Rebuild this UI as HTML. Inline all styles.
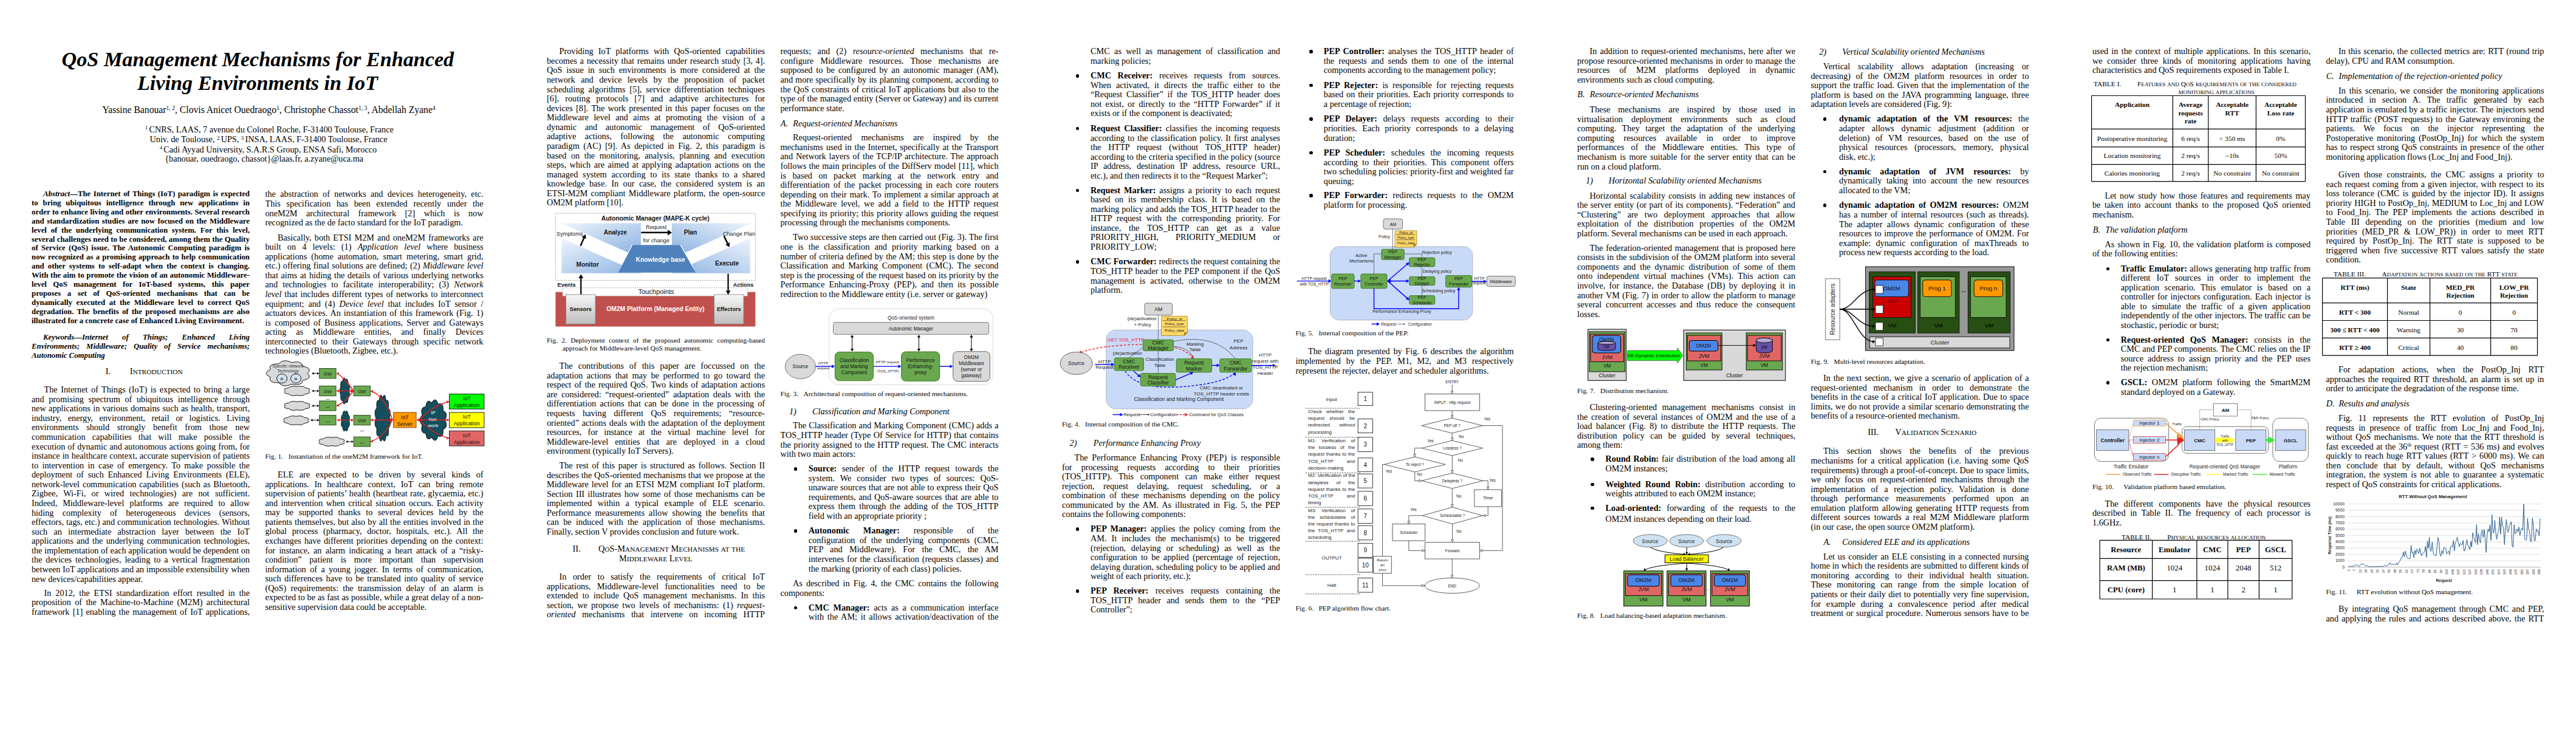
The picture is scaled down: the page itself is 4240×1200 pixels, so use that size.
<!DOCTYPE html><html><head><meta charset="utf-8"><title>QoS Management Mechanisms for Enhanced Living Environments in IoT</title><style>
html,body{margin:0;padding:0;background:#fff}
body{width:4240px;height:1200px;position:relative;overflow:hidden}
.l{position:absolute;white-space:nowrap;font-family:"Liberation Serif",serif;font-size:14.245px;line-height:1;color:#000}
.j{text-align:justify;text-align-last:justify}
.fs{position:absolute;white-space:nowrap;font-family:"Liberation Sans",sans-serif;font-size:8.1px;line-height:1;color:#222}
.d{position:absolute;width:5.5px;height:5.5px;border-radius:50%;background:#000}
.b{font-weight:bold}.i{font-style:italic}
sup{font-size:0.62em;vertical-align:baseline;position:relative;top:-0.55em;line-height:0}
svg text{font-family:"Liberation Sans",sans-serif}
</style></head><body>
<div class="l b j" style="left:71px;top:313.06px;font-size:12.82px;width:340px"><i>Abstract</i>—The Internet of Things (IoT) paradigm is expected</div>
<div class="l b j" style="left:52px;top:327.96px;font-size:12.82px;width:359px">to bring ubiquitous intelligence through new applications in</div>
<div class="l b j" style="left:52px;top:342.86px;font-size:12.82px;width:359px">order to enhance living and other environments. Several research</div>
<div class="l b j" style="left:52px;top:357.76px;font-size:12.82px;width:359px">and standardization studies are now focused on the Middleware</div>
<div class="l b j" style="left:52px;top:372.66px;font-size:12.82px;width:359px">level of the underlying communication system. For this level,</div>
<div class="l b j" style="left:52px;top:387.56px;font-size:12.82px;width:359px">several challenges need to be considered, among them the Quality</div>
<div class="l b j" style="left:52px;top:402.46px;font-size:12.82px;width:359px">of Service (QoS) issue. The Autonomic Computing paradigm is</div>
<div class="l b j" style="left:52px;top:417.36px;font-size:12.82px;width:359px">now recognized as a promising approach to help communication</div>
<div class="l b j" style="left:52px;top:432.26px;font-size:12.82px;width:359px">and other systems to self-adapt when the context is changing.</div>
<div class="l b j" style="left:52px;top:447.16px;font-size:12.82px;width:359px">With the aim to promote the vision of an autonomic Middleware-</div>
<div class="l b j" style="left:52px;top:462.06px;font-size:12.82px;width:359px">level QoS management for IoT-based systems, this paper</div>
<div class="l b j" style="left:52px;top:476.96px;font-size:12.82px;width:359px">proposes a set of QoS-oriented mechanisms that can be</div>
<div class="l b j" style="left:52px;top:491.86px;font-size:12.82px;width:359px">dynamically executed at the Middleware level to correct QoS</div>
<div class="l b j" style="left:52px;top:506.76px;font-size:12.82px;width:359px">degradation. The benefits of the proposed mechanisms are also</div>
<div class="l b" style="left:52px;top:521.66px;font-size:12.82px">illustrated for a concrete case of Enhanced Living Environment.</div>
<div class="l b i j" style="left:71px;top:548.86px;font-size:12.82px;width:340px">Keywords—Internet of Things; Enhanced Living</div>
<div class="l b i j" style="left:52px;top:563.76px;font-size:12.82px;width:359px">Environments; Middleware; Quality of Service mechanisms;</div>
<div class="l b i" style="left:52px;top:578.66px;font-size:12.82px">Autonomic Computing</div>
<div class="l j" style="left:72.5px;top:634.17px;width:338.5px">The Internet of Things (IoT) is expected to bring a large</div>
<div class="l j" style="left:52px;top:649.74px;width:359px">and promising spectrum of ubiquitous intelligence through</div>
<div class="l j" style="left:52px;top:665.31px;width:359px">new applications in various domains such as health, transport,</div>
<div class="l j" style="left:52px;top:680.88px;width:359px">industry, energy, environment, retail or logistics. Living</div>
<div class="l j" style="left:52px;top:696.45px;width:359px">environments should strongly benefit from those new</div>
<div class="l j" style="left:52px;top:712.02px;width:359px">communication capabilities that will make possible the</div>
<div class="l j" style="left:52px;top:727.59px;width:359px">execution of dynamic and autonomous actions going from, for</div>
<div class="l j" style="left:52px;top:743.16px;width:359px">instance in healthcare context, accurate supervision of patients</div>
<div class="l j" style="left:52px;top:758.73px;width:359px">to intervention in case of emergency. To make possible the</div>
<div class="l j" style="left:52px;top:774.3px;width:359px">deployment of such Enhanced Living Environments (ELE),</div>
<div class="l j" style="left:52px;top:789.87px;width:359px">network-level communication capabilities (such as Bluetooth,</div>
<div class="l j" style="left:52px;top:805.44px;width:359px">Zigbee, Wi-Fi, or wired technologies) are not sufficient.</div>
<div class="l j" style="left:52px;top:821.01px;width:359px">Indeed, Middleware-level platforms are required to allow</div>
<div class="l j" style="left:52px;top:836.58px;width:359px">hiding complexity of heterogeneous devices (sensors,</div>
<div class="l j" style="left:52px;top:852.15px;width:359px">effectors, tags, etc.) and communication technologies. Without</div>
<div class="l j" style="left:52px;top:867.72px;width:359px">such an intermediate abstraction layer between the IoT</div>
<div class="l j" style="left:52px;top:883.29px;width:359px">applications and the underlying communication technologies,</div>
<div class="l j" style="left:52px;top:898.86px;width:359px">the implementation of each application would be dependent on</div>
<div class="l j" style="left:52px;top:914.43px;width:359px">the devices technologies, leading to a vertical fragmentation</div>
<div class="l j" style="left:52px;top:930px;width:359px">between IoT applications and an impossible extensibility when</div>
<div class="l" style="left:52px;top:945.57px">new devices/capabilities appear.</div>
<div class="l j" style="left:72.5px;top:968.87px;width:338.5px">In 2012, the ETSI standardization effort resulted in the</div>
<div class="l j" style="left:52px;top:984.44px;width:359px">proposition of the Machine-to-Machine (M2M) architectural</div>
<div class="l j" style="left:52px;top:1000.01px;width:359px">framework [1] enabling the management of IoT applications,</div>
<div class="l j" style="left:436.5px;top:312.37px;width:359px">the abstraction of networks and devices heterogeneity, etc.</div>
<div class="l j" style="left:436.5px;top:327.94px;width:359px">This specification has been extended recently under the</div>
<div class="l j" style="left:436.5px;top:343.51px;width:359px">oneM2M architectural framework [2] which is now</div>
<div class="l" style="left:436.5px;top:359.08px">recognized as the de facto standard for the IoT paradigm.</div>
<div class="l j" style="left:457px;top:383.57px;width:338.5px">Basically, both ETSI M2M and oneM2M frameworks are</div>
<div class="l j" style="left:436.5px;top:399.14px;width:359px">built on 4 levels: (1) <i>Application level</i> where business</div>
<div class="l j" style="left:436.5px;top:414.71px;width:359px">applications (home automation, smart metering, smart grid,</div>
<div class="l j" style="left:436.5px;top:430.28px;width:359px">etc.) offering final solutions are defined; (2) <i>Middleware level</i></div>
<div class="l j" style="left:436.5px;top:445.85px;width:359px">that aims at hiding the details of various underlying networks</div>
<div class="l j" style="left:436.5px;top:461.42px;width:359px">and technologies to facilitate interoperability; (3) <i>Network</i></div>
<div class="l j" style="left:436.5px;top:476.99px;width:359px"><i>level</i> that includes different types of networks to interconnect</div>
<div class="l j" style="left:436.5px;top:492.56px;width:359px">equipment; and (4) <i>Device level</i> that includes IoT sensor /</div>
<div class="l j" style="left:436.5px;top:508.13px;width:359px">actuators devices. An instantiation of this framework (Fig. 1)</div>
<div class="l j" style="left:436.5px;top:523.7px;width:359px">is composed of Business applications, Server and Gateways</div>
<div class="l j" style="left:436.5px;top:539.27px;width:359px">acting as Middleware entities, and finally Devices</div>
<div class="l j" style="left:436.5px;top:554.84px;width:359px">interconnected to their Gateways through specific network</div>
<div class="l" style="left:436.5px;top:570.41px">technologies (Bluetooth, Zigbee, etc.).</div>
<div class="l j" style="left:457px;top:774.07px;width:338.5px">ELE are expected to be driven by several kinds of</div>
<div class="l j" style="left:436.5px;top:789.64px;width:359px">applications. In healthcare context, IoT can bring remote</div>
<div class="l j" style="left:436.5px;top:805.21px;width:359px">supervision of patients’ health (heartbeat rate, glycaemia, etc.)</div>
<div class="l j" style="left:436.5px;top:820.78px;width:359px">and intervention when critical situation occurs. Each activity</div>
<div class="l j" style="left:436.5px;top:836.35px;width:359px">may be supported thanks to several devices held by the</div>
<div class="l j" style="left:436.5px;top:851.92px;width:359px">patients themselves, but also by all the entities involved in the</div>
<div class="l j" style="left:436.5px;top:867.49px;width:359px">global process (pharmacy, doctor, hospitals, etc.). All the</div>
<div class="l j" style="left:436.5px;top:883.06px;width:359px">exchanges have different priorities depending on the context:</div>
<div class="l j" style="left:436.5px;top:898.63px;width:359px">for instance, an alarm indicating a heart attack of a “risky-</div>
<div class="l j" style="left:436.5px;top:914.2px;width:359px">condition” patient is more important than supervision</div>
<div class="l j" style="left:436.5px;top:929.77px;width:359px">information of a young jogger. In terms of communication,</div>
<div class="l j" style="left:436.5px;top:945.34px;width:359px">such differences have to be translated into quality of service</div>
<div class="l j" style="left:436.5px;top:960.91px;width:359px">(QoS) requirements: the transmission delay of an alarm is</div>
<div class="l j" style="left:436.5px;top:976.48px;width:359px">expected to be as fast as possible, while a great delay of a non-</div>
<div class="l" style="left:436.5px;top:992.05px">sensitive supervision data could be acceptable.</div>
<div class="l b i" style="left:101.6px;top:80.77px;font-size:34.19px">QoS Management Mechanisms for Enhanced</div>
<div class="l b i" style="left:226px;top:119.87px;font-size:34.19px">Living Environments in IoT</div>
<div class="l" style="left:168.5px;top:173.38px;font-size:15.67px">Yassine Banouar<sup>1, 2</sup>, Clovis Anicet Ouedraogo<sup>1</sup>, Christophe Chassot<sup>1, 3</sup>, Abdellah Zyane<sup>4</sup></div>
<div class="l" style="left:238.8px;top:206.17px"><sup>1 </sup>CNRS, LAAS, 7 avenue du Colonel Roche, F-31400 Toulouse, France</div>
<div class="l" style="left:246.5px;top:222.37px">Univ. de Toulouse, <sup>2 </sup>UPS, <sup>3 </sup>INSA, LAAS, F-31400 Toulouse, France</div>
<div class="l" style="left:262.7px;top:238.57px"><sup>4 </sup>Cadi Ayyad University, S.A.R.S Group, ENSA Safi, Morocco</div>
<div class="l" style="left:271.2px;top:253.97px">{banouar, ouedraogo, chassot}@laas.fr, a.zyane@uca.ma</div>
<div class="l" style="left:173.7px;top:604.17px">I.</div>
<div class="l" style="left:213.7px;top:604.17px">I<span style="font-size:11.4px">NTRODUCTION</span></div>
<div class="l" style="left:436.5px;top:746.46px;font-size:11.4px">Fig. 1.</div>
<div class="l" style="left:474.7px;top:746.46px;font-size:11.4px">Instantiation of the oneM2M framework for IoT.</div>
<div class="l j" style="left:920.5px;top:77.27px;width:338.5px">Providing IoT platforms with QoS-oriented capabilities</div>
<div class="l j" style="left:900px;top:92.84px;width:359px">becomes a necessity that remains under research study [3, 4].</div>
<div class="l j" style="left:900px;top:108.41px;width:359px">QoS issue in such environments is more considered at the</div>
<div class="l j" style="left:900px;top:123.98px;width:359px">network and device levels by the proposition of packet</div>
<div class="l j" style="left:900px;top:139.55px;width:359px">scheduling algorithms [5], service differentiation techniques</div>
<div class="l j" style="left:900px;top:155.12px;width:359px">[6], routing protocols [7] and adaptive architectures for</div>
<div class="l j" style="left:900px;top:170.69px;width:359px">devices [8]. The work presented in this paper focuses on the</div>
<div class="l j" style="left:900px;top:186.26px;width:359px">Middleware level and aims at promoting the vision of a</div>
<div class="l j" style="left:900px;top:201.83px;width:359px">dynamic and autonomic management of QoS-oriented</div>
<div class="l j" style="left:900px;top:217.4px;width:359px">adaptive actions, following the autonomic computing</div>
<div class="l j" style="left:900px;top:232.97px;width:359px">paradigm (AC) [9]. As depicted in Fig. 2, this paradigm is</div>
<div class="l j" style="left:900px;top:248.54px;width:359px">based on the monitoring, analysis, planning and execution</div>
<div class="l j" style="left:900px;top:264.11px;width:359px">steps, which are aimed at applying adaptation actions on the</div>
<div class="l j" style="left:900px;top:279.68px;width:359px">managed system according to its state thanks to a shared</div>
<div class="l j" style="left:900px;top:295.25px;width:359px">knowledge base. In our case, the considered system is an</div>
<div class="l j" style="left:900px;top:310.82px;width:359px">ETSI-M2M compliant Middleware platform, the open-source</div>
<div class="l" style="left:900px;top:326.39px">OM2M platform [10].</div>
<div class="l j" style="left:900px;top:554.76px;font-size:11.4px;width:359px">Fig. 2.  Deployment context of the proposed autonomic computing-based</div>
<div class="l" style="left:926px;top:568.36px;font-size:11.4px">approach for Middleware-level QoS management.</div>
<div class="l j" style="left:920.5px;top:595.17px;width:338.5px">The contributions of this paper are foccussed on the</div>
<div class="l j" style="left:900px;top:610.74px;width:359px">adaptation actions that may be performed to go toward the</div>
<div class="l j" style="left:900px;top:626.31px;width:359px">respect of the required QoS. Two kinds of adaptation actions</div>
<div class="l j" style="left:900px;top:641.88px;width:359px">are considered: “request-oriented” adaptation deals with the</div>
<div class="l j" style="left:900px;top:657.45px;width:359px">differentiation actions that can be done in the processing of</div>
<div class="l j" style="left:900px;top:673.02px;width:359px">requests having different QoS requirements; “resource-</div>
<div class="l j" style="left:900px;top:688.59px;width:359px">oriented” actions deals with the adaptation of the deployment</div>
<div class="l j" style="left:900px;top:704.16px;width:359px">resources, for instance at the virtual machine level for</div>
<div class="l j" style="left:900px;top:719.73px;width:359px">Middleware-level entities that are deployed in a cloud</div>
<div class="l" style="left:900px;top:735.3px">environment (typically IoT Servers).</div>
<div class="l j" style="left:920.5px;top:758.97px;width:338.5px">The rest of this paper is structured as follows. Section II</div>
<div class="l j" style="left:900px;top:774.54px;width:359px">describes the QoS-oriented mechanisms that we propose at the</div>
<div class="l j" style="left:900px;top:790.11px;width:359px">Middleware level for an ETSI M2M compliant IoT platform.</div>
<div class="l j" style="left:900px;top:805.68px;width:359px">Section III illustrates how some of those mechanisms can be</div>
<div class="l j" style="left:900px;top:821.25px;width:359px">implemented within a typical example of ELE scenario.</div>
<div class="l j" style="left:900px;top:836.82px;width:359px">Performance measurements allow showing the benefits that</div>
<div class="l j" style="left:900px;top:852.39px;width:359px">can be induced with the application of those mechanisms.</div>
<div class="l" style="left:900px;top:867.96px">Finally, section V provides conclusion and future work.</div>
<div class="l" style="left:942.6px;top:896.07px">II.</div>
<div class="l" style="left:985px;top:896.07px">Q<span style="font-size:11.4px">O</span>S-M<span style="font-size:11.4px">ANAGEMENT</span> M<span style="font-size:11.4px">ECHANISMS</span> <span style="font-size:11.4px">AT</span> <span style="font-size:11.4px">THE</span></div>
<div class="l" style="left:1019px;top:912.07px">M<span style="font-size:11.4px">IDDLEWARE</span> L<span style="font-size:11.4px">EVEL</span></div>
<div class="l j" style="left:920.5px;top:942.07px;width:338.5px">In order to satisfy the requirements of critical IoT</div>
<div class="l j" style="left:900px;top:957.64px;width:359px">applications, Middleware-level functionalities need to be</div>
<div class="l j" style="left:900px;top:973.21px;width:359px">extended to include QoS management mechanisms. In this</div>
<div class="l j" style="left:900px;top:988.78px;width:359px">section, we propose two levels of mechanisms: (1) <i>request-</i></div>
<div class="l j" style="left:900px;top:1004.35px;width:359px"><i>oriented</i> mechanisms that intervene on incoming HTTP</div>
<div class="l j" style="left:1284.5px;top:77.27px;width:359px">requests; and (2) <i>resource-oriented</i> mechanisms that re-</div>
<div class="l j" style="left:1284.5px;top:92.84px;width:359px">configure Middleware resources. Those mechanisms are</div>
<div class="l j" style="left:1284.5px;top:108.41px;width:359px">supposed to be configured by an autonomic manager (AM),</div>
<div class="l j" style="left:1284.5px;top:123.98px;width:359px">and more specifically by its planning component, according to</div>
<div class="l j" style="left:1284.5px;top:139.55px;width:359px">the QoS constraints of critical IoT applications but also to the</div>
<div class="l j" style="left:1284.5px;top:155.12px;width:359px">type of the managed entity (Server or Gateway) and its current</div>
<div class="l" style="left:1284.5px;top:170.69px">performance state.</div>
<div class="l i" style="left:1284.7px;top:195.77px">A.</div>
<div class="l i" style="left:1305.3px;top:195.77px">Request-oriented Mechanisms</div>
<div class="l j" style="left:1305px;top:219.27px;width:338.5px">Request-oriented mechanisms are inspired by the</div>
<div class="l j" style="left:1284.5px;top:234.84px;width:359px">mechanisms used in the Internet, specifically at the Transport</div>
<div class="l j" style="left:1284.5px;top:250.41px;width:359px">and Network layers of the TCP/IP architecture. The approach</div>
<div class="l j" style="left:1284.5px;top:265.98px;width:359px">follows the main principles of the DiffServ model [11], which</div>
<div class="l j" style="left:1284.5px;top:281.55px;width:359px">is based on packet marking at the network entry and</div>
<div class="l j" style="left:1284.5px;top:297.12px;width:359px">differentiation of the packet processing in each core routers</div>
<div class="l j" style="left:1284.5px;top:312.69px;width:359px">depending on their mark. To implement a similar approach at</div>
<div class="l j" style="left:1284.5px;top:328.26px;width:359px">the Middleware level, we add a field to the HTTP request</div>
<div class="l j" style="left:1284.5px;top:343.83px;width:359px">specifying its priority; this priority allows guiding the request</div>
<div class="l" style="left:1284.5px;top:359.4px">processing through the mechanisms components.</div>
<div class="l j" style="left:1305px;top:383.47px;width:338.5px">Two successive steps are then carried out (Fig. 3). The first</div>
<div class="l j" style="left:1284.5px;top:399.04px;width:359px">one is the classification and priority marking based on a</div>
<div class="l j" style="left:1284.5px;top:414.61px;width:359px">number of criteria defined by the AM; this step is done by the</div>
<div class="l j" style="left:1284.5px;top:430.18px;width:359px">Classification and Marking Component (CMC). The second</div>
<div class="l j" style="left:1284.5px;top:445.75px;width:359px">step is the processing of the request based on its priority by the</div>
<div class="l j" style="left:1284.5px;top:461.32px;width:359px">Performance Enhancing-Proxy (PEP), and then its possible</div>
<div class="l" style="left:1284.5px;top:476.89px">redirection to the Middleware entity (i.e. server or gateway)</div>
<div class="l" style="left:1284.5px;top:643.06px;font-size:11.4px">Fig. 3.</div>
<div class="l" style="left:1322.5px;top:643.06px;font-size:11.4px">Architectural composition of request-oriented mechanisms.</div>
<div class="l i" style="left:1299px;top:669.57px">1)</div>
<div class="l i" style="left:1337px;top:669.57px">Classification and Marking Component</div>
<div class="l j" style="left:1305px;top:693.37px;width:338.5px">The Classification and Marking Component (CMC) adds a</div>
<div class="l j" style="left:1284.5px;top:708.94px;width:359px">TOS_HTTP header (Type Of Service for HTTP) that contains</div>
<div class="l j" style="left:1284.5px;top:724.51px;width:359px">the priority assigned to the HTTP request. The CMC interacts</div>
<div class="l" style="left:1284.5px;top:740.08px">with two main actors:</div>
<div class="d" style="left:1306.65px;top:769.15px"></div>
<div class="l j" style="left:1330.8px;top:764.17px;width:312.7px"><b>Source:</b> sender of the HTTP request towards the</div>
<div class="l j" style="left:1330.8px;top:779.74px;width:312.7px">system. We consider two types of sources: QoS-</div>
<div class="l j" style="left:1330.8px;top:795.31px;width:312.7px">unaware sources that are not able to express their QoS</div>
<div class="l j" style="left:1330.8px;top:810.88px;width:312.7px">requirements, and QoS-aware sources that are able to</div>
<div class="l j" style="left:1330.8px;top:826.45px;width:312.7px">express them through the adding of the TOS_HTTP</div>
<div class="l" style="left:1330.8px;top:842.02px">field with an appropriate priority ;</div>
<div class="d" style="left:1306.65px;top:871.25px"></div>
<div class="l j" style="left:1330.8px;top:866.27px;width:312.7px"><b>Autonomic Manager:</b> responsible of the</div>
<div class="l j" style="left:1330.8px;top:881.84px;width:312.7px">configuration of the underlying components (CMC,</div>
<div class="l j" style="left:1330.8px;top:897.41px;width:312.7px">PEP and Middleware). For the CMC, the AM</div>
<div class="l j" style="left:1330.8px;top:912.98px;width:312.7px">intervenes for the classification (requests classes) and</div>
<div class="l" style="left:1330.8px;top:928.55px">the marking (priority of each class) policies.</div>
<div class="l j" style="left:1305px;top:953.37px;width:338.5px">As described in Fig. 4, the CMC contains the following</div>
<div class="l" style="left:1284.5px;top:968.94px">components:</div>
<div class="d" style="left:1306.65px;top:997.85px"></div>
<div class="l j" style="left:1330.8px;top:992.87px;width:312.7px"><b>CMC Manager:</b> acts as a communication interface</div>
<div class="l j" style="left:1330.8px;top:1008.44px;width:312.7px">with the AM; it allows activation/deactivation of the</div>
<div class="l j" style="left:1795px;top:77.27px;width:312px">CMC as well as management of classification and</div>
<div class="l" style="left:1795px;top:92.84px">marking policies;</div>
<div class="d" style="left:1770.55px;top:122.15px"></div>
<div class="l j" style="left:1795px;top:117.17px;width:312px"><b>CMC Receiver:</b> receives requests from sources.</div>
<div class="l j" style="left:1795px;top:132.74px;width:312px">When activated, it directs the traffic either to the</div>
<div class="l j" style="left:1795px;top:148.31px;width:312px">“Request Classifier” if the TOS_HTTP header does</div>
<div class="l j" style="left:1795px;top:163.88px;width:312px">not exist, or directly to the “HTTP Forwarder” if it</div>
<div class="l" style="left:1795px;top:179.45px">exists or if the component is deactivated;</div>
<div class="d" style="left:1770.55px;top:208.95px"></div>
<div class="l j" style="left:1795px;top:203.97px;width:312px"><b>Request Classifier:</b> classifies the incoming requests</div>
<div class="l j" style="left:1795px;top:219.54px;width:312px">according to the classification policy. It first analyses</div>
<div class="l j" style="left:1795px;top:235.11px;width:312px">the HTTP request (without TOS_HTTP header)</div>
<div class="l j" style="left:1795px;top:250.68px;width:312px">according to the criteria specified in the policy (source</div>
<div class="l j" style="left:1795px;top:266.25px;width:312px">IP address, destination IP address, resource URL,</div>
<div class="l" style="left:1795px;top:281.82px">etc.), and then redirects it to the “Request Marker”;</div>
<div class="d" style="left:1770.55px;top:310.55px"></div>
<div class="l j" style="left:1795px;top:305.57px;width:312px"><b>Request Marker:</b> assigns a priority to each request</div>
<div class="l j" style="left:1795px;top:321.14px;width:312px">based on its membership class. It is based on the</div>
<div class="l j" style="left:1795px;top:336.71px;width:312px">marking policy and adds the TOS_HTTP header to the</div>
<div class="l j" style="left:1795px;top:352.28px;width:312px">HTTP request with the corresponding priority. For</div>
<div class="l j" style="left:1795px;top:367.85px;width:312px">instance, the TOS_HTTP can get as a value</div>
<div class="l j" style="left:1795px;top:383.42px;width:312px">PRIORITY_HIGH, PRIORITY_MEDIUM or</div>
<div class="l" style="left:1795px;top:398.99px">PRIORITY_LOW;</div>
<div class="d" style="left:1770.55px;top:428.35px"></div>
<div class="l j" style="left:1795px;top:423.37px;width:312px"><b>CMC Forwarder:</b> redirects the request containing the</div>
<div class="l j" style="left:1795px;top:438.94px;width:312px">TOS_HTTP header to the PEP component if the QoS</div>
<div class="l j" style="left:1795px;top:454.51px;width:312px">management is activated, otherwise to the OM2M</div>
<div class="l" style="left:1795px;top:470.08px">platform.</div>
<div class="l" style="left:1748px;top:693.46px;font-size:11.4px">Fig. 4.</div>
<div class="l" style="left:1786px;top:693.46px;font-size:11.4px">Internal composition of the CMC.</div>
<div class="l i" style="left:1760.6px;top:722.17px">2)</div>
<div class="l i" style="left:1799.7px;top:722.17px">Performance Enhancing Proxy</div>
<div class="l j" style="left:1768.5px;top:746.07px;width:338.5px">The Performance Enhancing Proxy (PEP) is responsible</div>
<div class="l j" style="left:1748px;top:761.64px;width:359px">for processing requests according to their priorities</div>
<div class="l j" style="left:1748px;top:777.21px;width:359px">(TOS_HTTP). This component can make either request</div>
<div class="l j" style="left:1748px;top:792.78px;width:359px">rejection, request delaying, request scheduling, or a</div>
<div class="l j" style="left:1748px;top:808.35px;width:359px">combination of these mechanisms depending on the policy</div>
<div class="l j" style="left:1748px;top:823.92px;width:359px">communicated by the AM. As illustrated in Fig. 5, the PEP</div>
<div class="l" style="left:1748px;top:839.49px">contains the following components:</div>
<div class="d" style="left:1770.55px;top:868.35px"></div>
<div class="l j" style="left:1795px;top:863.37px;width:312px"><b>PEP Manager:</b> applies the policy coming from the</div>
<div class="l j" style="left:1795px;top:878.94px;width:312px">AM. It includes the mechanism(s) to be triggered</div>
<div class="l j" style="left:1795px;top:894.51px;width:312px">(rejection, delaying or scheduling) as well as the</div>
<div class="l j" style="left:1795px;top:910.08px;width:312px">configuration to be applied (percentage of rejection,</div>
<div class="l j" style="left:1795px;top:925.65px;width:312px">delaying duration, scheduling policy to be applied and</div>
<div class="l" style="left:1795px;top:941.22px">weight of each priority, etc.);</div>
<div class="d" style="left:1770.55px;top:970.05px"></div>
<div class="l j" style="left:1795px;top:965.07px;width:312px"><b>PEP Receiver:</b> receives requests containing the</div>
<div class="l j" style="left:1795px;top:980.64px;width:312px">TOS_HTTP header and sends them to the “PEP</div>
<div class="l" style="left:1795px;top:996.21px">Controller”;</div>
<div class="d" style="left:2155.15px;top:82.25px"></div>
<div class="l j" style="left:2178.8px;top:77.27px;width:312.7px"><b>PEP Controller:</b> analyses the TOS_HTTP header of</div>
<div class="l j" style="left:2178.8px;top:92.84px;width:312.7px">the requests and sends them to one of the internal</div>
<div class="l" style="left:2178.8px;top:108.41px">components according to the management  policy;</div>
<div class="d" style="left:2155.15px;top:137.75px"></div>
<div class="l j" style="left:2178.8px;top:132.77px;width:312.7px"><b>PEP Rejecter:</b> is responsible for rejecting requests</div>
<div class="l j" style="left:2178.8px;top:148.34px;width:312.7px">based on their priorities. Each priority corresponds to</div>
<div class="l" style="left:2178.8px;top:163.91px">a percentage of rejection;</div>
<div class="d" style="left:2155.15px;top:193.35px"></div>
<div class="l j" style="left:2178.8px;top:188.37px;width:312.7px"><b>PEP Delayer:</b> delays requests according to their</div>
<div class="l j" style="left:2178.8px;top:203.94px;width:312.7px">priorities. Each priority corresponds to a delaying</div>
<div class="l" style="left:2178.8px;top:219.51px">duration;</div>
<div class="d" style="left:2155.15px;top:248.95px"></div>
<div class="l j" style="left:2178.8px;top:243.97px;width:312.7px"><b>PEP Scheduler:</b> schedules the incoming requests</div>
<div class="l j" style="left:2178.8px;top:259.54px;width:312.7px">according to their priorities. This component offers</div>
<div class="l j" style="left:2178.8px;top:275.11px;width:312.7px">two scheduling policies: priority-first and weighted far</div>
<div class="l" style="left:2178.8px;top:290.68px">queuing;</div>
<div class="d" style="left:2155.15px;top:319.25px"></div>
<div class="l j" style="left:2178.8px;top:314.27px;width:312.7px"><b>PEP Forwarder:</b> redirects requests to the OM2M</div>
<div class="l" style="left:2178.8px;top:329.84px">platform for processing.</div>
<div class="l" style="left:2132.5px;top:543.46px;font-size:11.4px">Fig. 5.</div>
<div class="l" style="left:2170.5px;top:543.46px;font-size:11.4px">Internal composition of the PEP.</div>
<div class="l j" style="left:2153px;top:571.37px;width:338.5px">The diagram presented by Fig. 6 describes the algorithm</div>
<div class="l j" style="left:2132.5px;top:586.94px;width:359px">implemented by the PEP. M1, M2, and M3 respectively</div>
<div class="l" style="left:2132.5px;top:602.51px">represent the rejecter, delayer and scheduler algorithms.</div>
<div class="l" style="left:2132.5px;top:995.66px;font-size:11.4px">Fig. 6.</div>
<div class="l" style="left:2170.5px;top:995.66px;font-size:11.4px">PEP algorithm flow chart.</div>
<div class="l j" style="left:2616.5px;top:77.27px;width:338.5px">In addition to request-oriented mechanisms, here after we</div>
<div class="l j" style="left:2596px;top:92.84px;width:359px">propose resource-oriented mechanisms in order to manage the</div>
<div class="l j" style="left:2596px;top:108.41px;width:359px">resources of M2M platforms deployed in dynamic</div>
<div class="l" style="left:2596px;top:123.98px">environments such as cloud computing.</div>
<div class="l i" style="left:2596.2px;top:148.47px">B.</div>
<div class="l i" style="left:2616.8px;top:148.47px">Resource-oriented Mechanisms</div>
<div class="l j" style="left:2616.5px;top:173.17px;width:338.5px">These mechanisms are inspired by those used in</div>
<div class="l j" style="left:2596px;top:188.74px;width:359px">virtualisation deployment environments such as cloud</div>
<div class="l j" style="left:2596px;top:204.31px;width:359px">computing. They target the adaptation of the underlying</div>
<div class="l j" style="left:2596px;top:219.88px;width:359px">computing resources available in order to improve</div>
<div class="l j" style="left:2596px;top:235.45px;width:359px">performances of the Middleware entities. This type of</div>
<div class="l j" style="left:2596px;top:251.02px;width:359px">mechanism is more suitable for the server entity that can be</div>
<div class="l" style="left:2596px;top:266.59px">run on a cloud platform.</div>
<div class="l i" style="left:2610.2px;top:290.47px">1)</div>
<div class="l i" style="left:2647.7px;top:290.47px">Horizontal Scalability oriented Mechanisms</div>
<div class="l j" style="left:2616.5px;top:314.67px;width:338.5px">Horizontal scalability consists in adding new instances of</div>
<div class="l j" style="left:2596px;top:330.24px;width:359px">the server entity (or part of its components). “Federation” and</div>
<div class="l j" style="left:2596px;top:345.81px;width:359px">“Clustering” are two deployment approaches that allow</div>
<div class="l j" style="left:2596px;top:361.38px;width:359px">exploitation of the distribution properties of the OM2M</div>
<div class="l" style="left:2596px;top:376.95px">platform. Several mechanisms can be used in each approach.</div>
<div class="l j" style="left:2616.5px;top:400.77px;width:338.5px">The federation-oriented management that is proposed here</div>
<div class="l j" style="left:2596px;top:416.34px;width:359px">consists in the subdivision of the OM2M platform into several</div>
<div class="l j" style="left:2596px;top:431.91px;width:359px">components and the dynamic distribution of some of them</div>
<div class="l j" style="left:2596px;top:447.48px;width:359px">onto independent virtual machines (VMs). This action can</div>
<div class="l j" style="left:2596px;top:463.05px;width:359px">involve, for instance, the Database (DB) by deploying it in</div>
<div class="l j" style="left:2596px;top:478.62px;width:359px">another VM (Fig. 7) in order to allow the platform to manage</div>
<div class="l j" style="left:2596px;top:494.19px;width:359px">several concurrent accesses and thus reduce the consequent</div>
<div class="l" style="left:2596px;top:509.76px">losses.</div>
<div class="l" style="left:2596px;top:637.56px;font-size:11.4px">Fig. 7.</div>
<div class="l" style="left:2634px;top:637.56px;font-size:11.4px">Distribution mechanism.</div>
<div class="l j" style="left:2616.5px;top:663.17px;width:338.5px">Clustering-oriented management mechanisms consist in</div>
<div class="l j" style="left:2596px;top:678.74px;width:359px">the creation of several instances of OM2M and the use of a</div>
<div class="l j" style="left:2596px;top:694.31px;width:359px">load balancer (Fig. 8) to distribute the HTTP requests. The</div>
<div class="l j" style="left:2596px;top:709.88px;width:359px">distribution policy can be guided by several techniques,</div>
<div class="l" style="left:2596px;top:725.45px">among them:</div>
<div class="d" style="left:2618.25px;top:753.35px"></div>
<div class="l j" style="left:2642.6px;top:748.37px;width:312.4px"><b>Round Robin:</b> fair distribution of the load among all</div>
<div class="l" style="left:2642.6px;top:763.94px">OM2M instances;</div>
<div class="d" style="left:2618.25px;top:794.55px"></div>
<div class="l j" style="left:2642.6px;top:789.57px;width:312.4px"><b>Weighted Round Robin:</b> distribution according to</div>
<div class="l" style="left:2642.6px;top:805.14px">weights attributed to each OM2M instance;</div>
<div class="d" style="left:2618.25px;top:833.55px"></div>
<div class="l j" style="left:2642.6px;top:828.57px;width:312.4px"><b>Load-oriented:</b> forwarding of the requests to the</div>
<div class="l" style="left:2642.6px;top:847.07px">OM2M instances depending on their load.</div>
<div class="l" style="left:2596px;top:1008.46px;font-size:11.4px">Fig. 8.</div>
<div class="l" style="left:2634px;top:1008.46px;font-size:11.4px">Load balancing-based adaptation mechanism.</div>
<div class="l i" style="left:2994.4px;top:78.07px">2)</div>
<div class="l i" style="left:3032.3px;top:78.07px">Vertical Scalability oriented Mechanisms</div>
<div class="l j" style="left:3001px;top:101.97px;width:338.5px">Vertical scalability allows adaptation (increasing or</div>
<div class="l j" style="left:2980.5px;top:117.54px;width:359px">decreasing) of the OM2M platform resources in order to</div>
<div class="l j" style="left:2980.5px;top:133.11px;width:359px">support the traffic load. Given that the implementation of the</div>
<div class="l j" style="left:2980.5px;top:148.68px;width:359px">platform is based on the JAVA programming language, three</div>
<div class="l" style="left:2980.5px;top:164.25px">adaptation levels are considered (Fig. 9):</div>
<div class="d" style="left:3000.75px;top:193.35px"></div>
<div class="l j" style="left:3027px;top:188.37px;width:312.5px"><b>dynamic adaptation of the VM resources:</b> the</div>
<div class="l j" style="left:3027px;top:203.94px;width:312.5px">adapter allows dynamic adjustment (addition or</div>
<div class="l j" style="left:3027px;top:219.51px;width:312.5px">deletion) of VM resources, based on the use of</div>
<div class="l j" style="left:3027px;top:235.08px;width:312.5px">physical resources (processors, memory, physical</div>
<div class="l" style="left:3027px;top:250.65px">disk, etc.);</div>
<div class="d" style="left:3000.75px;top:279.75px"></div>
<div class="l j" style="left:3027px;top:274.77px;width:312.5px"><b>dynamic adaptation of JVM resources:</b> by</div>
<div class="l j" style="left:3027px;top:290.34px;width:312.5px">dynamically taking into account the new resources</div>
<div class="l" style="left:3027px;top:305.91px">allocated to the VM;</div>
<div class="d" style="left:3000.75px;top:335.35px"></div>
<div class="l j" style="left:3027px;top:330.37px;width:312.5px"><b>dynamic adaptation of OM2M resources:</b> OM2M</div>
<div class="l j" style="left:3027px;top:345.94px;width:312.5px">has a number of internal resources (such as threads).</div>
<div class="l j" style="left:3027px;top:361.51px;width:312.5px">The adapter allows dynamic configuration of these</div>
<div class="l j" style="left:3027px;top:377.08px;width:312.5px">resources to improve the performance of OM2M. For</div>
<div class="l j" style="left:3027px;top:392.65px;width:312.5px">example: dynamic configuration of maxThreads to</div>
<div class="l" style="left:3027px;top:408.22px">process new requests according to the load.</div>
<div class="l" style="left:2980.5px;top:589.56px;font-size:11.4px">Fig. 9.</div>
<div class="l" style="left:3018.5px;top:589.56px;font-size:11.4px">Multi-level resources adaptation.</div>
<div class="l j" style="left:3001px;top:615.17px;width:338.5px">In the next section, we give a scenario of application of a</div>
<div class="l j" style="left:2980.5px;top:630.74px;width:359px">request-oriented mechanism in order to demonstrate the</div>
<div class="l j" style="left:2980.5px;top:646.31px;width:359px">benefits in the case of a critical IoT application. Due to space</div>
<div class="l j" style="left:2980.5px;top:661.88px;width:359px">limits, we do not provide a similar scenario demonstrating the</div>
<div class="l" style="left:2980.5px;top:677.45px">benefits of a resource-oriented mechanism.</div>
<div class="l" style="left:3074.3px;top:704.47px">III.</div>
<div class="l" style="left:3119.5px;top:704.47px">V<span style="font-size:11.4px">ALIDATION</span> S<span style="font-size:11.4px">CENARIO</span></div>
<div class="l j" style="left:3001px;top:735.37px;width:338.5px">This section shows the benefits of the previous</div>
<div class="l j" style="left:2980.5px;top:750.94px;width:359px">mechanisms for a critical application (i.e. having some QoS</div>
<div class="l j" style="left:2980.5px;top:766.51px;width:359px">requirements) through a proof-of-concept. Due to space limits,</div>
<div class="l j" style="left:2980.5px;top:782.08px;width:359px">we only focus on request-oriented mechanisms through the</div>
<div class="l j" style="left:2980.5px;top:797.65px;width:359px">implementation of a rejection policy. Validation is done</div>
<div class="l j" style="left:2980.5px;top:813.22px;width:359px">through performance measurements performed upon an</div>
<div class="l j" style="left:2980.5px;top:828.79px;width:359px">emulation platform allowing generating HTTP requests from</div>
<div class="l j" style="left:2980.5px;top:844.36px;width:359px">different sources towards a real M2M Middleware platform</div>
<div class="l" style="left:2980.5px;top:859.93px">(in our case, the open source OM2M platform).</div>
<div class="l i" style="left:3001.4px;top:884.77px">A.</div>
<div class="l i" style="left:3032.3px;top:884.77px">Considered ELE and its applications</div>
<div class="l j" style="left:3001px;top:908.67px;width:338.5px">Let us consider an ELE consisting in a connected nursing</div>
<div class="l j" style="left:2980.5px;top:924.24px;width:359px">home in which the residents are submitted to different kinds of</div>
<div class="l j" style="left:2980.5px;top:939.81px;width:359px">monitoring according to their individual health situation.</div>
<div class="l j" style="left:2980.5px;top:955.38px;width:359px">These monitoring can range from the simple location of</div>
<div class="l j" style="left:2980.5px;top:970.95px;width:359px">patients or their daily diet to potentially very fine supervision,</div>
<div class="l j" style="left:2980.5px;top:986.52px;width:359px">for example during a convalescence period after medical</div>
<div class="l j" style="left:2980.5px;top:1002.09px;width:359px">treatment or surgical procedure. Numerous sensors have to be</div>
<div class="l j" style="left:3444px;top:77.27px;width:359px">used in the context of multiple applications. In this scenario,</div>
<div class="l j" style="left:3444px;top:92.84px;width:359px">we consider three kinds of monitoring applications having</div>
<div class="l" style="left:3444px;top:108.41px">characteristics and QoS requirements exposed in Table I.</div>
<div class="l" style="left:3446px;top:133.16px;font-size:11.4px">TABLE I.</div>
<div class="l" style="left:3518px;top:133.16px;font-size:11.4px">F<span style="font-size:9.12px">EATURES</span> <span style="font-size:9.12px">AND</span> Q<span style="font-size:9.12px">O</span>S <span style="font-size:9.12px">REQUIREMENTS</span> <span style="font-size:9.12px">OF</span> <span style="font-size:9.12px">THE</span> <span style="font-size:9.12px">CONSIDERED</span></div>
<div class="l" style="left:3585.4px;top:146.36px;font-size:11.4px"><span style="font-size:9.12px">MONITORING</span> <span style="font-size:9.12px">APPLICATIONS</span></div>
<div class="l j" style="left:3464.5px;top:314.67px;width:338.5px">Let now study how those features and requirements may</div>
<div class="l j" style="left:3444px;top:330.24px;width:359px">be taken into account thanks to the proposed QoS oriented</div>
<div class="l" style="left:3444px;top:345.81px">mechanism.</div>
<div class="l i" style="left:3444.7px;top:370.67px">B.</div>
<div class="l i" style="left:3465.3px;top:370.67px">The validation platform</div>
<div class="l j" style="left:3464.5px;top:394.57px;width:338.5px">As shown in Fig. 10, the validation platform is composed</div>
<div class="l" style="left:3444px;top:410.14px">of the following entities:</div>
<div class="d" style="left:3466.65px;top:439.55px"></div>
<div class="l j" style="left:3490.8px;top:434.57px;width:312.2px"><b>Traffic Emulator:</b> allows generating http traffic from</div>
<div class="l j" style="left:3490.8px;top:450.14px;width:312.2px">different IoT sources in order to implement the</div>
<div class="l j" style="left:3490.8px;top:465.71px;width:312.2px">application scenario. This emulator is based on a</div>
<div class="l j" style="left:3490.8px;top:481.28px;width:312.2px">controller for injectors configuration. Each injector is</div>
<div class="l j" style="left:3490.8px;top:496.85px;width:312.2px">able to simulate the traffic of a given application</div>
<div class="l j" style="left:3490.8px;top:512.42px;width:312.2px">independently of the other injectors. The traffic can be</div>
<div class="l" style="left:3490.8px;top:527.99px">stochastic, periodic or burst;</div>
<div class="d" style="left:3466.65px;top:556.75px"></div>
<div class="l j" style="left:3490.8px;top:551.77px;width:312.2px"><b>Request-oriented QoS Manager:</b> consists in the</div>
<div class="l j" style="left:3490.8px;top:567.34px;width:312.2px">CMC and PEP components. The CMC relies on the IP</div>
<div class="l j" style="left:3490.8px;top:582.91px;width:312.2px">source address to assign priority and the PEP  uses</div>
<div class="l" style="left:3490.8px;top:598.48px">the rejection mechanism;</div>
<div class="d" style="left:3466.65px;top:627.35px"></div>
<div class="l j" style="left:3490.8px;top:622.37px;width:312.2px"><b>GSCL:</b> OM2M platform following the SmartM2M</div>
<div class="l" style="left:3490.8px;top:637.94px">standard deployed on a Gateway.</div>
<div class="l" style="left:3444px;top:796.36px;font-size:11.4px">Fig. 10.</div>
<div class="l" style="left:3495.3px;top:796.36px;font-size:11.4px">Validation platform based emulation.</div>
<div class="l j" style="left:3464.5px;top:821.87px;width:338.5px">The different components have the physical resources</div>
<div class="l j" style="left:3444px;top:837.44px;width:359px">described in Table II. The frequency of each processor is</div>
<div class="l" style="left:3444px;top:853.01px">1.6GHz.</div>
<div class="l" style="left:3492px;top:878.66px;font-size:11.4px">TABLE II.</div>
<div class="l" style="left:3567.3px;top:878.66px;font-size:11.4px">P<span style="font-size:9.12px">HYSICAL</span> <span style="font-size:9.12px">RESOURCES</span> <span style="font-size:9.12px">ALLOCATION</span></div>
<div class="l j" style="left:3849px;top:77.27px;width:338.5px">In this scenario, the collected metrics are: RTT (round trip</div>
<div class="l" style="left:3828.5px;top:92.84px">delay), CPU and RAM consumption.</div>
<div class="l i" style="left:3828.8px;top:117.57px">C.</div>
<div class="l i" style="left:3849.4px;top:117.57px">Implementation of the rejection-oriented policy</div>
<div class="l j" style="left:3849px;top:141.87px;width:338.5px">In this scenario, we consider the monitoring applications</div>
<div class="l j" style="left:3828.5px;top:157.44px;width:359px">introduced in section A. The traffic generated by each</div>
<div class="l j" style="left:3828.5px;top:173.01px;width:359px">application is emulated by a traffic injector. The injectors send</div>
<div class="l j" style="left:3828.5px;top:188.58px;width:359px">HTTP traffic (POST requests) to the Gateway environing the</div>
<div class="l j" style="left:3828.5px;top:204.15px;width:359px">patients. We focus on the injector representing the</div>
<div class="l j" style="left:3828.5px;top:219.72px;width:359px">Postoperative monitoring (PostOp_Inj) for which the system</div>
<div class="l j" style="left:3828.5px;top:235.29px;width:359px">has to respect strong QoS constraints in presence of the other</div>
<div class="l" style="left:3828.5px;top:250.86px">monitoring application flows (Loc_Inj and Food_Inj).</div>
<div class="l j" style="left:3849px;top:280.17px;width:338.5px">Given those constraints, the CMC assigns a priority to</div>
<div class="l j" style="left:3828.5px;top:295.74px;width:359px">each request coming from a given injector, with respect to its</div>
<div class="l j" style="left:3828.5px;top:311.31px;width:359px">loss tolerance (CMC is guided by the injector ID). It assigns</div>
<div class="l j" style="left:3828.5px;top:326.88px;width:359px">priority HIGH to PostOp_Inj, MEDIUM to Loc_Inj and LOW</div>
<div class="l j" style="left:3828.5px;top:342.45px;width:359px">to Food_Inj. The PEP implements the actions described in</div>
<div class="l j" style="left:3828.5px;top:358.02px;width:359px">Table III depending on the priorities (medium and low</div>
<div class="l j" style="left:3828.5px;top:373.59px;width:359px">priorities (MED_PR &amp; LOW_PR)) in order to meet RTT</div>
<div class="l j" style="left:3828.5px;top:389.16px;width:359px">required by PostOp_Inj. The RTT state is supposed to be</div>
<div class="l j" style="left:3828.5px;top:404.73px;width:359px">triggered when five successive RTT values satisfy the state</div>
<div class="l" style="left:3828.5px;top:420.3px">condition.</div>
<div class="l" style="left:3841px;top:445.56px;font-size:11.4px">TABLE III.</div>
<div class="l" style="left:3920.6px;top:445.56px;font-size:11.4px">A<span style="font-size:9.12px">DAPTATION</span> <span style="font-size:9.12px">ACTIONS</span> <span style="font-size:9.12px">BASED</span> <span style="font-size:9.12px">ON</span> <span style="font-size:9.12px">THE</span> RTT <span style="font-size:9.12px">STATE</span></div>
<div class="l j" style="left:3849px;top:601.17px;width:338.5px">For adaptation actions, when the PostOp_Inj RTT</div>
<div class="l j" style="left:3828.5px;top:616.74px;width:359px">approaches the required RTT threshold, an alarm is set up in</div>
<div class="l" style="left:3828.5px;top:632.31px">order to anticipate the degradation of the response time.</div>
<div class="l i" style="left:3828.8px;top:657.17px">D.</div>
<div class="l i" style="left:3849.4px;top:657.17px">Results and analysis</div>
<div class="l j" style="left:3849px;top:681.07px;width:338.5px">Fig. 11 represents the RTT evolution of PostOp_Inj</div>
<div class="l j" style="left:3828.5px;top:696.64px;width:359px">requests in presence of traffic from Loc_Inj and Food_Inj,</div>
<div class="l j" style="left:3828.5px;top:712.21px;width:359px">without QoS mechanisms. We note that the RTT threshold is</div>
<div class="l j" style="left:3828.5px;top:727.78px;width:359px">fast exceeded at the 36<sup>th</sup> request (RTT = 536 ms) and evolves</div>
<div class="l j" style="left:3828.5px;top:743.35px;width:359px">quickly to reach huge RTT values  (RTT &gt; 6000 ms). We can</div>
<div class="l j" style="left:3828.5px;top:758.92px;width:359px">then conclude that by default, without QoS mechanisms</div>
<div class="l j" style="left:3828.5px;top:774.49px;width:359px">integration, the system is not able to guarantee a systematic</div>
<div class="l" style="left:3828.5px;top:790.06px">respect of QoS constraints for critical applications.</div>
<div class="l" style="left:3828.5px;top:969.06px;font-size:11.4px">Fig. 11.</div>
<div class="l" style="left:3878.9px;top:969.06px;font-size:11.4px">RTT evolution without QoS management.</div>
<div class="l j" style="left:3849px;top:995.17px;width:338.5px">By integrating QoS management through CMC and PEP,</div>
<div class="l j" style="left:3828.5px;top:1010.74px;width:359px">and applying the rules and actions described above, the RTT</div>
<div class="fs j" style="left:2152.9px;top:673.84px;width:77.3px">Check whether the</div>
<div class="fs j" style="left:2152.9px;top:685.14px;width:77.3px">request should be</div>
<div class="fs j" style="left:2152.9px;top:696.44px;width:77.3px">redirected without</div>
<div class="fs" style="left:2152.9px;top:707.74px;width:77.3px">processing</div>
<div class="fs j" style="left:2152.9px;top:722.04px;width:77.3px">M1: Verification of</div>
<div class="fs j" style="left:2152.9px;top:733.24px;width:77.3px">the lossless of the</div>
<div class="fs j" style="left:2152.9px;top:744.44px;width:77.3px">request thanks to the</div>
<div class="fs j" style="left:2152.9px;top:755.64px;width:77.3px">TOS_HTTP and</div>
<div class="fs" style="left:2152.9px;top:766.84px;width:77.3px">decision-making</div>
<div class="fs j" style="left:2152.9px;top:779.44px;width:77.3px">M2: Verification of the</div>
<div class="fs j" style="left:2152.9px;top:790.64px;width:77.3px">delayless of the</div>
<div class="fs j" style="left:2152.9px;top:801.84px;width:77.3px">request thanks to the</div>
<div class="fs j" style="left:2152.9px;top:813.04px;width:77.3px">TOS_HTTP and</div>
<div class="fs" style="left:2152.9px;top:824.24px;width:77.3px">timing</div>
<div class="fs j" style="left:2152.9px;top:836.64px;width:77.3px">M3: Verification of</div>
<div class="fs j" style="left:2152.9px;top:847.84px;width:77.3px">the schedulable of</div>
<div class="fs j" style="left:2152.9px;top:859.04px;width:77.3px">the request thanks to</div>
<div class="fs j" style="left:2152.9px;top:870.24px;width:77.3px">the TOS_HTTP and</div>
<div class="fs" style="left:2152.9px;top:881.44px;width:77.3px">scheduling</div>
<svg style="position:absolute;left:0;top:0" width="4240" height="1200" viewBox="0 0 4240 1200"><path d="M506,614.5 Q515.38,623.03 498.63,626.11 Q496.25,636.1 479.97,632.29 Q466.95,639.06 458.75,630.14 Q441.18,630.53 444.9,620.68 Q431,614.5 444.9,608.32 Q441.18,598.47 458.75,598.86 Q466.95,589.94 479.97,596.71 Q496.25,592.9 498.63,602.89 Q515.38,605.97 506,614.5Z" fill="#d9d9d9" stroke="#000" stroke-width="0.9"/><text x="474" y="604.5" font-size="7" text-anchor="middle" fill="#333">Specific network</text><text x="474" y="612.5" font-size="7" text-anchor="middle" fill="#333">Technology</text><ellipse cx="464" cy="623" rx="8.5" ry="7.5" fill="#cfe2f3" stroke="#000" stroke-width="0.9"/><text x="464" y="625.5" font-size="6" text-anchor="middle" fill="#222" font-weight="bold">D</text><ellipse cx="487" cy="623" rx="8.5" ry="7.5" fill="#cfe2f3" stroke="#000" stroke-width="0.9"/><text x="487" y="625.5" font-size="6" text-anchor="middle" fill="#222" font-weight="bold">D</text><path d="M508.32,643.5 Q513.65,647.27 502.66,648.55 Q499.21,652.61 489,650.64 Q478.79,652.61 475.34,648.55 Q464.35,647.27 469.68,643.5 Q464.35,639.73 475.34,638.45 Q478.79,634.39 489,636.36 Q499.21,634.39 502.66,638.45 Q513.65,639.73 508.32,643.5Z" fill="#d9d9d9" stroke="#000" stroke-width="0.9"/><path d="M508.32,668 Q513.65,671.55 502.66,672.75 Q499.21,676.57 489,674.72 Q478.79,676.57 475.34,672.75 Q464.35,671.55 469.68,668 Q464.35,664.45 475.34,663.25 Q478.79,659.43 489,661.28 Q499.21,659.43 502.66,663.25 Q513.65,664.45 508.32,668Z" fill="#d9d9d9" stroke="#000" stroke-width="0.9"/><path d="M506.4,692 Q511.61,695.55 500.86,696.75 Q497.49,700.57 487.5,698.72 Q477.51,700.57 474.14,696.75 Q463.39,695.55 468.6,692 Q463.39,688.45 474.14,687.25 Q477.51,683.43 487.5,685.28 Q497.49,683.43 500.86,687.25 Q511.61,688.45 506.4,692Z" fill="#d9d9d9" stroke="#000" stroke-width="0.9"/><path d="M565.32,727 Q570.65,730.55 559.66,731.75 Q556.21,735.57 546,733.72 Q535.79,735.57 532.34,731.75 Q521.35,730.55 526.68,727 Q521.35,723.45 532.34,722.25 Q535.79,718.43 546,720.28 Q556.21,718.43 559.66,722.25 Q570.65,723.45 565.32,727Z" fill="#d9d9d9" stroke="#000" stroke-width="0.9"/><line x1="515.45" y1="614.7" x2="523.05" y2="614.7" stroke="#000" stroke-width="0.9"/><polygon points="525.5,614.7 522,616.8 522,612.6" fill="#000" stroke="none" stroke-width="1"/><polygon points="513,614.7 516.5,612.6 516.5,616.8" fill="#000" stroke="none" stroke-width="1"/><line x1="515.45" y1="643.5" x2="523.05" y2="643.5" stroke="#000" stroke-width="0.9"/><polygon points="525.5,643.5 522,645.6 522,641.4" fill="#000" stroke="none" stroke-width="1"/><polygon points="513,643.5 516.5,641.4 516.5,645.6" fill="#000" stroke="none" stroke-width="1"/><line x1="515.45" y1="668" x2="523.05" y2="668" stroke="#000" stroke-width="0.9"/><polygon points="525.5,668 522,670.1 522,665.9" fill="#000" stroke="none" stroke-width="1"/><polygon points="513,668 516.5,665.9 516.5,670.1" fill="#000" stroke="none" stroke-width="1"/><line x1="513.45" y1="691.6" x2="523.05" y2="691.6" stroke="#000" stroke-width="0.9"/><polygon points="525.5,691.6 522,693.7 522,689.5" fill="#000" stroke="none" stroke-width="1"/><polygon points="511,691.6 514.5,689.5 514.5,693.7" fill="#000" stroke="none" stroke-width="1"/><line x1="571.45" y1="727" x2="579.55" y2="727" stroke="#000" stroke-width="0.9"/><polygon points="582,727 578.5,729.1 578.5,724.9" fill="#000" stroke="none" stroke-width="1"/><polygon points="569,727 572.5,724.9 572.5,729.1" fill="#000" stroke="none" stroke-width="1"/><rect x="525.7" y="606.5" width="27.3" height="16.4" fill="#6aa84f" stroke="#274e13" stroke-width="1"/><text x="539.3" y="617.7" font-size="7.6" text-anchor="middle" fill="#111">GW</text><rect x="525.7" y="635.3" width="27.3" height="16.4" fill="#6aa84f" stroke="#274e13" stroke-width="1"/><text x="539.3" y="646.5" font-size="7.6" text-anchor="middle" fill="#111">GW</text><rect x="525.7" y="660" width="27.3" height="16" fill="#6aa84f" stroke="#274e13" stroke-width="1"/><text x="539.3" y="671" font-size="8" text-anchor="middle" fill="#111" font-weight="bold">...</text><rect x="525.7" y="683.6" width="27.3" height="16.1" fill="#6aa84f" stroke="#274e13" stroke-width="1"/><text x="539.3" y="694.65" font-size="8" text-anchor="middle" fill="#111" font-weight="bold">...</text><text x="539.3" y="657.5" font-size="8" text-anchor="middle" fill="#111" font-weight="bold">...</text><rect x="582.3" y="635.3" width="27.1" height="16.4" fill="#6aa84f" stroke="#274e13" stroke-width="1"/><text x="595.8" y="646.5" font-size="7.6" text-anchor="middle" fill="#111">GW</text><rect x="582.3" y="683.6" width="27.1" height="16.1" fill="#6aa84f" stroke="#274e13" stroke-width="1"/><text x="595.8" y="694.65" font-size="7.6" text-anchor="middle" fill="#111">GW</text><rect x="582.3" y="719.2" width="27.1" height="15.8" fill="#6aa84f" stroke="#274e13" stroke-width="1"/><text x="595.8" y="730.1" font-size="8" text-anchor="middle" fill="#111" font-weight="bold">...</text><text x="596" y="709.5" font-size="8" text-anchor="middle" fill="#111" font-weight="bold">...</text><path d="M574.64,643.5 Q576.77,652.43 572.97,655.65 Q572.43,666.1 568.74,662.11 Q565.79,669.2 563.93,659.87 Q559.95,660.28 560.79,649.96 Q557.64,643.5 560.79,637.04 Q559.95,626.72 563.93,627.13 Q565.79,617.8 568.74,624.89 Q572.43,620.9 572.97,631.35 Q576.77,634.57 574.64,643.5Z" fill="#134f5c" stroke="#000" stroke-width="0.8"/><path d="M574.8,693 Q576.54,700.99 572.95,703.69 Q571.83,712.29 568.5,708.12 Q565.17,712.29 564.05,703.69 Q560.46,700.99 562.2,693 Q560.46,685.01 564.05,682.31 Q565.17,673.71 568.5,677.88 Q571.83,673.71 572.95,682.31 Q576.54,685.01 574.8,693Z" fill="#134f5c" stroke="#000" stroke-width="0.8"/><path d="M640.88,688.3 Q644.6,700.22 639.39,704.97 Q640.62,720.86 635.32,717.18 Q633.73,732.78 629.75,721.65 Q625.77,732.78 624.19,717.18 Q618.88,720.86 620.11,704.97 Q614.9,700.22 618.62,688.3 Q614.9,676.38 620.11,671.63 Q618.88,655.74 624.18,659.42 Q625.77,643.82 629.75,654.95 Q633.73,643.82 635.32,659.42 Q640.62,655.74 639.39,671.63 Q644.6,676.38 640.88,688.3Z" fill="#134f5c" stroke="#000" stroke-width="0.8"/><path d="M732.36,691.5 Q738.57,702.77 729.33,707.17 Q730.53,721.75 721.19,717.86 Q717.01,731.11 710.53,720.19 Q702.29,727.9 700.74,713.4 Q691.05,713.14 694.91,699.66 Q686.86,691.5 694.91,683.34 Q691.05,669.86 700.74,669.6 Q702.29,655.1 710.53,662.81 Q717.01,651.89 721.19,665.14 Q730.53,661.25 729.33,675.83 Q738.57,680.23 732.36,691.5Z" fill="#134f5c" stroke="#000" stroke-width="0.8"/><path d="M582,643.5 Q560,615 554,614.5" fill="none" stroke="#e02020" stroke-width="1.4"/><polygon points="553.5,614.7 557.65,612.57 557.33,617.36" fill="#e02020" stroke="none" stroke-width="1"/><line x1="582" y1="643.5" x2="554.5" y2="643.5" stroke="#e02020" stroke-width="1.4"/><polygon points="553.5,643.5 557.5,641.1 557.5,645.9" fill="#e02020" stroke="none" stroke-width="1"/><path d="M582,643.5 Q565,665 554,668" fill="none" stroke="#e02020" stroke-width="1.4"/><polygon points="553.5,668 557.01,664.92 557.86,669.65" fill="#e02020" stroke="none" stroke-width="1"/><polygon points="582,643.5 577,646.5 577,640.5" fill="#e02020" stroke="none" stroke-width="1"/><line x1="556" y1="691.5" x2="582" y2="691.5" stroke="#e02020" stroke-width="1.4"/><polygon points="554.5,691.5 558.5,689.1 558.5,693.9" fill="#e02020" stroke="none" stroke-width="1"/><polygon points="582,691.5 578,693.9 578,689.1" fill="#e02020" stroke="none" stroke-width="1"/><path d="M646,691 Q632,650 610,643.5" fill="none" stroke="#e02020" stroke-width="1.4"/><polygon points="609.8,643.5 614.25,642.11 613.12,646.77" fill="#e02020" stroke="none" stroke-width="1"/><line x1="646" y1="691.5" x2="610.5" y2="691.5" stroke="#e02020" stroke-width="1.4"/><polygon points="609.8,691.5 613.8,689.1 613.8,693.9" fill="#e02020" stroke="none" stroke-width="1"/><path d="M646,691 Q632,720 610,727" fill="none" stroke="#e02020" stroke-width="1.4"/><polygon points="609.8,727 613.12,723.73 614.25,728.39" fill="#e02020" stroke="none" stroke-width="1"/><polygon points="647.5,691.3 641.5,694.9 641.5,687.7" fill="#e02020" stroke="none" stroke-width="1"/><line x1="686" y1="691.3" x2="739" y2="691.3" stroke="#e02020" stroke-width="1.4"/><polygon points="685.5,691.3 690.5,688.3 690.5,694.3" fill="#e02020" stroke="none" stroke-width="1"/><polygon points="739,691.3 735,693.7 735,688.9" fill="#e02020" stroke="none" stroke-width="1"/><path d="M690,691 Q712,668 739,661" fill="none" stroke="#e02020" stroke-width="1.4"/><polygon points="739.3,661 735.73,664 734.97,659.26" fill="#e02020" stroke="none" stroke-width="1"/><path d="M690,691 Q712,714 739,721.5" fill="none" stroke="#e02020" stroke-width="1.4"/><polygon points="739.3,721.5 734.97,723.24 735.73,718.5" fill="#e02020" stroke="none" stroke-width="1"/><path d="M582,643.5 Q575,630 565,622" fill="none" stroke="#e02020" stroke-width="1" opacity="0.6"/><text x="713" y="682" font-size="8" text-anchor="middle" fill="#fff">IP</text><text x="713" y="693" font-size="8" text-anchor="middle" fill="#fff">Net-</text><text x="713" y="703" font-size="8" text-anchor="middle" fill="#fff">work</text><line x1="690" y1="691.3" x2="736" y2="691.3" stroke="#e02020" stroke-width="1.1" opacity="0.7"/><line x1="616" y1="691.3" x2="647" y2="691.3" stroke="#e02020" stroke-width="1.1" opacity="0.7"/><rect x="647.7" y="678.9" width="37.3" height="24.9" fill="#ff9900" stroke="#7f4c00" stroke-width="1"/><text x="666.3" y="689.5" font-size="8.7" text-anchor="middle" fill="#111">IoT</text><text x="666.3" y="700.5" font-size="8.7" text-anchor="middle" fill="#111">Server</text><rect x="739.5" y="648.6" width="57.4" height="24.7" fill="#00ff00" stroke="#222" stroke-width="1"/><text x="768.2" y="659.1" font-size="8.8" text-anchor="middle" fill="#111">IoT</text><text x="768.2" y="670.1" font-size="8.8" text-anchor="middle" fill="#111">Application</text><rect x="739.5" y="678.9" width="57.4" height="25.1" fill="#ffff00" stroke="#222" stroke-width="1"/><text x="768.2" y="689.4" font-size="8.8" text-anchor="middle" fill="#111">IoT</text><text x="768.2" y="700.4" font-size="8.8" text-anchor="middle" fill="#111">Application</text><rect x="739.5" y="709.3" width="57.4" height="24.7" fill="#e06666" stroke="#222" stroke-width="1"/><text x="768.2" y="719.8" font-size="8.8" text-anchor="middle" fill="#111">IoT</text><text x="768.2" y="730.8" font-size="8.8" text-anchor="middle" fill="#111">Application</text><defs><linearGradient id="g2a" x1="0" y1="0" x2="1" y2="1"><stop offset="0" stop-color="#eef4fc"/><stop offset="1" stop-color="#8db3e2"/></linearGradient><linearGradient id="g2b" x1="1" y1="0" x2="0" y2="1"><stop offset="0" stop-color="#eef4fc"/><stop offset="1" stop-color="#8db3e2"/></linearGradient><linearGradient id="g2s" x1="0" y1="0" x2="0" y2="1"><stop offset="0" stop-color="#f7f7f7"/><stop offset="1" stop-color="#bdbdbd"/></linearGradient></defs><rect x="914.4" y="480.7" width="328.9" height="56.8" fill="#c0504d" stroke="none" stroke-width="0"/><rect x="926" y="473.7" width="304.3" height="13.6" fill="#ffffff" stroke="#999" stroke-width="0.7" stroke-dasharray="2,1.5"/><text x="1080" y="484.3" font-size="11.1" text-anchor="middle" fill="#111">Touchpoints</text><rect x="931.4" y="484.9" width="48.6" height="48.5" fill="url(#g2s)" stroke="#7f7f7f" stroke-width="0.8"/><rect x="1175.5" y="484.9" width="48.5" height="48.5" fill="url(#g2s)" stroke="#7f7f7f" stroke-width="0.8"/><text x="955.7" y="512" font-size="9.2" text-anchor="middle" fill="#111" font-weight="bold">Sensors</text><text x="1199.8" y="512" font-size="9.2" text-anchor="middle" fill="#111" font-weight="bold">Effectors</text><text x="1078.8" y="512" font-size="10.3" text-anchor="middle" fill="#fff" font-weight="bold">OM2M Platform (Managed Entity)</text><rect x="914.4" y="351" width="328.9" height="110.4" fill="none" stroke="#8c8c8c" stroke-width="0.8" stroke-dasharray="2,1.5"/><text x="1078.8" y="362.9" font-size="10.3" text-anchor="middle" fill="#111" font-weight="bold">Autonomic Manager (MAPE-K cycle)</text><polygon points="924.33,367.48 1054.85,367.48 1054.85,403.3 1039.73,403.3 1033.76,415.63" fill="url(#g2a)" stroke="none" stroke-width="1"/><polygon points="924.33,392.35 1023.41,436.13 1018.44,448.86 1054.85,448.86 1054.85,449.85 924.33,449.85" fill="url(#g2a)" stroke="none" stroke-width="1"/><polygon points="1105.98,367.48 1236.7,367.48 1127.87,415.63 1120.9,403.3 1105.98,403.3" fill="url(#g2b)" stroke="none" stroke-width="1"/><polygon points="1234.71,392.35 1234.71,449.85 1105.98,449.85 1105.98,448.86 1144.78,448.86 1138.81,434.53" fill="url(#g2b)" stroke="none" stroke-width="1"/><polygon points="1041.32,403.3 1119.31,403.3 1145.18,448.86 1017.44,448.86" fill="#4f81bd" stroke="none" stroke-width="1"/><text x="1012.87" y="385.79" font-size="10.1" text-anchor="middle" fill="#111" font-weight="bold">Analyze</text><text x="1136.42" y="385.79" font-size="10.1" text-anchor="middle" fill="#111" font-weight="bold">Plan</text><text x="967.1" y="438.51" font-size="10.1" text-anchor="middle" fill="#111" font-weight="bold">Monitor</text><text x="1196.51" y="436.92" font-size="10.2" text-anchor="middle" fill="#111" font-weight="bold">Execute</text><text x="1087.08" y="430.95" font-size="10.3" text-anchor="middle" fill="#fff" font-weight="bold">Knowledge base</text><text x="1080.12" y="376.83" font-size="9.2" text-anchor="middle" fill="#222">Request</text><text x="1080.12" y="398.72" font-size="9.2" text-anchor="middle" fill="#222">for change</text><line x1="1055.24" y1="382.8" x2="1101.08" y2="382.8" stroke="#000" stroke-width="2.6"/><polygon points="1105.98,382.8 1098.98,387.4 1098.98,378.2" fill="#000" stroke="none" stroke-width="1"/><text x="916" y="388.4" font-size="9.2" text-anchor="start" fill="#222">Symptoms</text><text x="1243" y="388.4" font-size="9.2" text-anchor="end" fill="#222">Change Plan</text><line x1="955.4" y1="404.7" x2="961.87" y2="389.97" stroke="#000" stroke-width="2.4"/><polygon points="963.7,385.8 964.75,393.36 957.42,390.14" fill="#000" stroke="none" stroke-width="1"/><line x1="1191.5" y1="388.4" x2="1198.49" y2="402.62" stroke="#000" stroke-width="2.4"/><polygon points="1200.5,406.7 1194.04,402.63 1201.22,399.1" fill="#000" stroke="none" stroke-width="1"/><text x="917.6" y="472.3" font-size="9.15" text-anchor="start" fill="#111" font-weight="bold">Events</text><text x="1240.3" y="472.3" font-size="9.15" text-anchor="end" fill="#111" font-weight="bold">Actions</text><line x1="956.2" y1="484.5" x2="956.2" y2="455.95" stroke="#000" stroke-width="2.2"/><polygon points="956.2,451.4 960.2,457.9 952.2,457.9" fill="#000" stroke="none" stroke-width="1"/><line x1="1198.5" y1="450.5" x2="1198.5" y2="480.45" stroke="#000" stroke-width="2.2"/><polygon points="1198.5,485 1194.5,478.5 1202.5,478.5" fill="#000" stroke="none" stroke-width="1"/><rect x="1364.6" y="508.3" width="270" height="124.8" rx="16" fill="#fff" stroke="#d0d0d0" stroke-width="0.8"/><text x="1499.4" y="526.3" font-size="8.2" text-anchor="middle" fill="#222">QoS-oriented system</text><rect x="1371.5" y="530.6" width="256.1" height="19.8" rx="3" fill="#d9d9d9" stroke="#666" stroke-width="0.8"/><text x="1499.4" y="543.5" font-size="8.2" text-anchor="middle" fill="#111">Autonomic Manager</text><line x1="1402.6" y1="554.15" x2="1402.6" y2="575.35" stroke="#000" stroke-width="1"/><polygon points="1402.6,578.5 1400,574 1405.2,574" fill="#000" stroke="none" stroke-width="1"/><polygon points="1402.6,551 1405.2,555.5 1400,555.5" fill="#000" stroke="none" stroke-width="1"/><line x1="1512.4" y1="554.15" x2="1512.4" y2="575.35" stroke="#000" stroke-width="1"/><polygon points="1512.4,578.5 1509.8,574 1515,574" fill="#000" stroke="none" stroke-width="1"/><polygon points="1512.4,551 1515,555.5 1509.8,555.5" fill="#000" stroke="none" stroke-width="1"/><line x1="1598.9" y1="554.15" x2="1598.9" y2="575.35" stroke="#000" stroke-width="1"/><polygon points="1598.9,578.5 1596.3,574 1601.5,574" fill="#000" stroke="none" stroke-width="1"/><polygon points="1598.9,551 1601.5,555.5 1596.3,555.5" fill="#000" stroke="none" stroke-width="1"/><rect x="1374.4" y="579.4" width="63" height="47.3" rx="7" fill="#6aa84f" stroke="#38761d" stroke-width="1"/><text x="1405.9" y="595.7" font-size="8.2" text-anchor="middle" fill="#111">Classification</text><text x="1405.9" y="605.7" font-size="8.2" text-anchor="middle" fill="#111">and Marking</text><text x="1405.9" y="615.7" font-size="8.2" text-anchor="middle" fill="#111">Component</text><rect x="1483.7" y="579" width="63" height="48.2" rx="7" fill="#6aa84f" stroke="#38761d" stroke-width="1"/><text x="1515.2" y="595.7" font-size="8.2" text-anchor="middle" fill="#111">Performance</text><text x="1515.2" y="605.7" font-size="8.2" text-anchor="middle" fill="#111">Enhancing-</text><text x="1515.2" y="615.7" font-size="8.2" text-anchor="middle" fill="#111">proxy</text><rect x="1568.7" y="578.7" width="60.7" height="48.9" rx="7" fill="#d9d9d9" stroke="#666" stroke-width="1"/><text x="1598.9" y="590.6" font-size="8.2" text-anchor="middle" fill="#111">OM2M</text><text x="1598.9" y="600.7" font-size="8.2" text-anchor="middle" fill="#111">Middleware</text><text x="1598.9" y="610.8" font-size="8.2" text-anchor="middle" fill="#111">(server or</text><text x="1598.9" y="620.9" font-size="8.2" text-anchor="middle" fill="#111">gateway)</text><ellipse cx="1317.4" cy="603.3" rx="25" ry="20.2" fill="#d9d9d9" stroke="#666" stroke-width="0.9"/><text x="1317.4" y="606" font-size="8.2" text-anchor="middle" fill="#111">Source</text><line x1="1342.4" y1="603.1" x2="1370.5" y2="603.1" stroke="#0000ff" stroke-width="1.4"/><polygon points="1374,603.1 1369,605.9 1369,600.3" fill="#0000ff" stroke="none" stroke-width="1"/><line x1="1437.4" y1="603.1" x2="1480" y2="603.1" stroke="#0000ff" stroke-width="1.4"/><polygon points="1483.5,603.1 1478.5,605.9 1478.5,600.3" fill="#0000ff" stroke="none" stroke-width="1"/><line x1="1546.7" y1="603.1" x2="1565" y2="603.1" stroke="#0000ff" stroke-width="1.4"/><polygon points="1568.5,603.1 1563.5,605.9 1563.5,600.3" fill="#0000ff" stroke="none" stroke-width="1"/><text x="1355" y="600.4" font-size="6.2" text-anchor="middle" fill="#222">HTTP</text><text x="1355" y="607.8" font-size="6.2" text-anchor="middle" fill="#222">request</text><text x="1460.6" y="597.6" font-size="6.2" text-anchor="middle" fill="#222">HTTP request</text><text x="1461.5" y="613.3" font-size="6.2" text-anchor="middle" fill="#222">(TOS_HTTP)</text><rect x="1820.8" y="543.2" width="241.2" height="129.8" rx="16" fill="#c9daf8" stroke="#555" stroke-width="0.7" stroke-dasharray="1.5,1.5"/><rect x="1884" y="499" width="45.5" height="19.6" rx="3" fill="#d9d9d9" stroke="#666" stroke-width="0.9"/><text x="1906.7" y="512" font-size="8.65" text-anchor="middle" fill="#111">AM</text><text x="1879.7" y="527.1" font-size="8" text-anchor="middle" fill="#222">(de)activation</text><text x="1880.6" y="536.9" font-size="8" text-anchor="middle" fill="#222">+ Policy</text><line x1="1906.4" y1="518.6" x2="1906.4" y2="614.6" stroke="#444" stroke-width="0.7"/><polygon points="1911.6,520.4 1954.4,520.4 1954.4,547.5 1949.4,552.5 1911.6,552.5" fill="#ffd966" stroke="#7f6000" stroke-width="0.6"/><polygon points="1954.4,547.5 1949.4,547.5 1949.4,552.5" fill="#bf9000" stroke="#7f6000" stroke-width="0.5"/><line x1="1913.6" y1="527.78" x2="1951.4" y2="527.78" stroke="#222" stroke-width="0.6"/><line x1="1913.6" y1="538.05" x2="1951.4" y2="538.05" stroke="#222" stroke-width="0.6"/><text x="1933" y="526.5" font-size="6.2" text-anchor="middle" fill="#111">Policy_id</text><text x="1933" y="535.49" font-size="6.2" text-anchor="middle" fill="#111">Policy_type</text><text x="1933" y="546.08" font-size="6.2" text-anchor="middle" fill="#111">Policy_data</text><path d="M1931,562 Q2000,548 2033,590" fill="none" stroke="#333" stroke-width="0.7"/><path d="M1931,570 Q1958,572 1965,590" fill="none" stroke="#333" stroke-width="0.7"/><line x1="1881.3" y1="572" x2="1858" y2="589" stroke="#333" stroke-width="0.7"/><path d="M1965,590 Q1945,566 1880,567 Q1810,568 1777,581" fill="none" stroke="#ee2222" stroke-width="1.3" stroke-dasharray="4,2.5"/><polygon points="1776,582 1778.5,576.73 1781.82,581.72" fill="#ee2222" stroke="none" stroke-width="1"/><polygon points="1965,590.5 1959.51,588.55 1964.14,584.73" fill="#ee2222" stroke="none" stroke-width="1"/><text x="1853" y="562.4" font-size="8.1" text-anchor="middle" fill="#e8202a">GET TOS_HTTP</text><path d="M1852,611 Q1872,641 1940,637 Q2015,632 2033,613" fill="none" stroke="#0000ff" stroke-width="1.3" stroke-dasharray="4,2.5"/><polygon points="2033.5,613 2034.48,618.75 2028.89,616.57" fill="#0000ff" stroke="none" stroke-width="1"/><rect x="1881.3" y="559.2" width="50.1" height="18.2" rx="2.5" fill="#6aa84f" stroke="#38761d" stroke-width="0.9"/><text x="1906.35" y="566.76" font-size="8.65" text-anchor="middle" fill="#111">CMC</text><text x="1906.35" y="576.06" font-size="8.65" text-anchor="middle" fill="#111">Manager</text><rect x="1834.2" y="589" width="48.2" height="21" rx="2.5" fill="#6aa84f" stroke="#38761d" stroke-width="0.9"/><text x="1858.3" y="597.96" font-size="8.65" text-anchor="middle" fill="#111">CMC</text><text x="1858.3" y="607.26" font-size="8.65" text-anchor="middle" fill="#111">Receiver</text><rect x="1877.3" y="614.6" width="57.6" height="20.9" rx="2.5" fill="#6aa84f" stroke="#38761d" stroke-width="0.9"/><text x="1906.1" y="623.51" font-size="8.65" text-anchor="middle" fill="#111">Request</text><text x="1906.1" y="632.81" font-size="8.65" text-anchor="middle" fill="#111">Classifier</text><rect x="1936.2" y="590.6" width="58.4" height="22.2" rx="2.5" fill="#6aa84f" stroke="#38761d" stroke-width="0.9"/><text x="1965.4" y="599.86" font-size="8.65" text-anchor="middle" fill="#111">Request</text><text x="1965.4" y="609.76" font-size="8.65" text-anchor="middle" fill="#111">Marker</text><rect x="2007.7" y="590.6" width="52.2" height="22.2" rx="2.5" fill="#6aa84f" stroke="#38761d" stroke-width="0.9"/><text x="2033.8" y="599.86" font-size="8.65" text-anchor="middle" fill="#111">CMC</text><text x="2033.8" y="609.76" font-size="8.65" text-anchor="middle" fill="#111">Forwarder</text><text x="1855.6" y="583.8" font-size="8" text-anchor="middle" fill="#222">(de)activation</text><text x="1909" y="594" font-size="8" text-anchor="middle" fill="#222">Classification</text><text x="1909" y="603.8" font-size="8" text-anchor="middle" fill="#222">Table</text><text x="1967" y="568.6" font-size="8" text-anchor="middle" fill="#222">Marking</text><text x="1967" y="578" font-size="8" text-anchor="middle" fill="#222">Table</text><text x="2038.5" y="564" font-size="8" text-anchor="middle" fill="#222">PEP</text><text x="2038.5" y="574.5" font-size="8" text-anchor="middle" fill="#222">Address</text><ellipse cx="1771.5" cy="598" rx="26.5" ry="18.5" fill="#d9d9d9" stroke="#555" stroke-width="0.9"/><text x="1771.5" y="601" font-size="8.46" text-anchor="middle" fill="#111">Source</text><line x1="1802.4" y1="599.9" x2="1830.7" y2="599.9" stroke="#0000ff" stroke-width="1.4"/><polygon points="1834.2,599.9 1829.2,602.7 1829.2,597.1" fill="#0000ff" stroke="none" stroke-width="1"/><text x="1818.1" y="597.6" font-size="8" text-anchor="middle" fill="#222">HTTP</text><text x="1818.1" y="607.4" font-size="8" text-anchor="middle" fill="#222">Request</text><line x1="1866" y1="611" x2="1874.86" y2="618.7" stroke="#0000ff" stroke-width="1.4"/><polygon points="1877.5,621 1871.89,619.83 1875.56,615.61" fill="#0000ff" stroke="none" stroke-width="1"/><line x1="1934.9" y1="625.4" x2="1961.08" y2="614.18" stroke="#0000ff" stroke-width="1.4"/><polygon points="1964.3,612.8 1960.81,617.34 1958.6,612.2" fill="#0000ff" stroke="none" stroke-width="1"/><line x1="1994.6" y1="601.5" x2="2004.2" y2="601.5" stroke="#0000ff" stroke-width="1.4"/><polygon points="2007.7,601.5 2002.7,604.3 2002.7,598.7" fill="#0000ff" stroke="none" stroke-width="1"/><line x1="2060" y1="601.5" x2="2096.5" y2="601.5" stroke="#0000ff" stroke-width="1.4"/><polygon points="2100,601.5 2095,604.3 2095,598.7" fill="#0000ff" stroke="none" stroke-width="1"/><text x="2082.6" y="587.3" font-size="8" text-anchor="middle" fill="#222">HTTP</text><text x="2082.6" y="597.1" font-size="8" text-anchor="middle" fill="#222">request with</text><text x="2082.6" y="606.9" font-size="8" text-anchor="middle" fill="#222">TOS_HTTP</text><text x="2082.6" y="616.7" font-size="8" text-anchor="middle" fill="#222">Header</text><text x="2010.4" y="640.9" font-size="8" text-anchor="middle" fill="#222">CMC deactivated or</text><text x="2010.4" y="651" font-size="8" text-anchor="middle" fill="#222">TOS_HTTP header exists</text><text x="1940.4" y="660.4" font-size="8.65" text-anchor="middle" fill="#222">Classification and Marking Component</text><line x1="1831.5" y1="682.5" x2="1845" y2="682.5" stroke="#0000ff" stroke-width="1.4"/><polygon points="1848.5,682.5 1843.5,685.3 1843.5,679.7" fill="#0000ff" stroke="none" stroke-width="1"/><text x="1849" y="685" font-size="7.4" text-anchor="start" fill="#222">Request</text><line x1="1876" y1="682.5" x2="1890.4" y2="682.5" stroke="#000" stroke-width="0.7"/><polygon points="1892.5,682.5 1889.5,684 1889.5,681" fill="#000" stroke="none" stroke-width="1"/><text x="1893" y="685" font-size="7.4" text-anchor="start" fill="#222">Configuration</text><line x1="1937" y1="682.5" x2="1950" y2="682.5" stroke="#ee2222" stroke-width="1.3" stroke-dasharray="3,2"/><polygon points="1955.5,682.5 1950.5,685.5 1950.5,679.5" fill="#ee2222" stroke="none" stroke-width="1"/><text x="1957" y="685" font-size="7.4" text-anchor="start" fill="#222">Command for QoS Classes</text><rect x="2189.4" y="405.8" width="234.4" height="121.1" rx="15" fill="#c9daf8" stroke="#555" stroke-width="0.7" stroke-dasharray="1.5,1.5"/><rect x="2277.2" y="360.2" width="31.2" height="16.9" rx="3" fill="#d9d9d9" stroke="#666" stroke-width="0.9"/><text x="2292.8" y="371.5" font-size="7.2" text-anchor="middle" fill="#111">AM</text><text x="2278.5" y="391.5" font-size="7.05" text-anchor="middle" fill="#222">Policy</text><line x1="2292.3" y1="377.1" x2="2292.3" y2="410.2" stroke="#444" stroke-width="0.7"/><polygon points="2296.1,379.8 2332,379.8 2332,402.1 2327,407.1 2296.1,407.1" fill="#ffd966" stroke="#7f6000" stroke-width="0.6"/><polygon points="2332,402.1 2327,402.1 2327,407.1" fill="#bf9000" stroke="#7f6000" stroke-width="0.5"/><line x1="2298.1" y1="386.08" x2="2329" y2="386.08" stroke="#222" stroke-width="0.6"/><line x1="2298.1" y1="394.81" x2="2329" y2="394.81" stroke="#222" stroke-width="0.6"/><text x="2314.05" y="384.99" font-size="5.4" text-anchor="middle" fill="#111">Policy_id</text><text x="2314.05" y="392.63" font-size="5.4" text-anchor="middle" fill="#111">Policy_type</text><text x="2314.05" y="401.64" font-size="5.4" text-anchor="middle" fill="#111">Policy_data</text><polyline points="2273.8,418 2261.5,418 2261.5,450.9" fill="none" stroke="#444" stroke-width="0.7"/><text x="2240.7" y="423.2" font-size="7.07" text-anchor="middle" fill="#222">Active</text><text x="2240.7" y="431.8" font-size="7.07" text-anchor="middle" fill="#222">Mechanisms</text><polyline points="2311.2,418 2340.5,418 2340.5,486.6" fill="none" stroke="#444" stroke-width="0.7"/><text x="2340.4" y="417.6" font-size="7.07" text-anchor="start" fill="#222">Rejection policy</text><text x="2341.7" y="449.4" font-size="7.07" text-anchor="start" fill="#222">Delaying policy</text><text x="2340.4" y="481.4" font-size="7.07" text-anchor="start" fill="#222">Scheduling policy</text><rect x="2273.9" y="410.3" width="37.3" height="17.2" rx="2.5" fill="#6aa84f" stroke="#38761d" stroke-width="0.9"/><text x="2292.55" y="417.06" font-size="7.1" text-anchor="middle" fill="#111">PEP</text><text x="2292.55" y="425.86" font-size="7.1" text-anchor="middle" fill="#111">Manager</text><rect x="2191.7" y="450.9" width="37.3" height="23.9" rx="2.5" fill="#6aa84f" stroke="#38761d" stroke-width="0.9"/><text x="2210.35" y="460.91" font-size="7.1" text-anchor="middle" fill="#111">PEP</text><text x="2210.35" y="469.91" font-size="7.1" text-anchor="middle" fill="#111">Receiver</text><rect x="2239.9" y="450.9" width="43" height="23.9" rx="2.5" fill="#6aa84f" stroke="#38761d" stroke-width="0.9"/><text x="2261.4" y="460.91" font-size="7.1" text-anchor="middle" fill="#111">PEP</text><text x="2261.4" y="469.91" font-size="7.1" text-anchor="middle" fill="#111">Controller</text><rect x="2319.5" y="424.1" width="42.3" height="14.8" rx="2.5" fill="#6aa84f" stroke="#38761d" stroke-width="0.9"/><text x="2340.65" y="429.76" font-size="7.1" text-anchor="middle" fill="#111">PEP</text><text x="2340.65" y="438.36" font-size="7.1" text-anchor="middle" fill="#111">Rejector</text><rect x="2319.5" y="455.4" width="42.3" height="14.3" rx="2.5" fill="#6aa84f" stroke="#38761d" stroke-width="0.9"/><text x="2340.65" y="460.81" font-size="7.1" text-anchor="middle" fill="#111">PEP</text><text x="2340.65" y="469.41" font-size="7.1" text-anchor="middle" fill="#111">Delayer</text><rect x="2319.5" y="486.6" width="42.3" height="14.4" rx="2.5" fill="#6aa84f" stroke="#38761d" stroke-width="0.9"/><text x="2340.65" y="492.06" font-size="7.1" text-anchor="middle" fill="#111">PEP</text><text x="2340.65" y="500.66" font-size="7.1" text-anchor="middle" fill="#111">Scheduler</text><rect x="2379.5" y="453.5" width="43" height="19.3" rx="2.5" fill="#6aa84f" stroke="#38761d" stroke-width="0.9"/><text x="2401" y="461.41" font-size="7.1" text-anchor="middle" fill="#111">PEP</text><text x="2401" y="470.01" font-size="7.1" text-anchor="middle" fill="#111">Forwarder</text><rect x="2447.3" y="454.6" width="46.9" height="16.9" rx="3" fill="#d9d9d9" stroke="#666" stroke-width="0.9"/><text x="2470.7" y="465.8" font-size="7.1" text-anchor="middle" fill="#111">Middleware</text><line x1="2134.7" y1="462.6" x2="2188" y2="462.6" stroke="#0000ff" stroke-width="1.4"/><polygon points="2191.5,462.6 2186.5,465.4 2186.5,459.8" fill="#0000ff" stroke="none" stroke-width="1"/><text x="2163.3" y="461.3" font-size="6.6" text-anchor="middle" fill="#222">HTTP request</text><text x="2163.3" y="469.6" font-size="6.6" text-anchor="middle" fill="#222">with TOS_HTTP</text><line x1="2229" y1="462.6" x2="2236.75" y2="462.6" stroke="#0000ff" stroke-width="1.4"/><polygon points="2239.9,462.6 2235.4,465.2 2235.4,460" fill="#0000ff" stroke="none" stroke-width="1"/><line x1="2284" y1="462.6" x2="2316.85" y2="434.29" stroke="#0000ff" stroke-width="1.5"/><polygon points="2319.5,432 2317.54,437.39 2313.88,433.14" fill="#0000ff" stroke="none" stroke-width="1"/><line x1="2284" y1="462.6" x2="2316" y2="462.6" stroke="#0000ff" stroke-width="1.5"/><polygon points="2319.5,462.6 2314.5,465.4 2314.5,459.8" fill="#0000ff" stroke="none" stroke-width="1"/><line x1="2284" y1="462.6" x2="2316.88" y2="491.68" stroke="#0000ff" stroke-width="1.5"/><polygon points="2319.5,494 2313.9,492.78 2317.61,488.59" fill="#0000ff" stroke="none" stroke-width="1"/><polygon points="2283,462.6 2289,459.1 2289,466.1" fill="#0000ff" stroke="none" stroke-width="1"/><polyline points="2261.5,474.8 2261.5,508.3 2400.9,508.3 2400.9,478" fill="none" stroke="#0000ff" stroke-width="1.4"/><polygon points="2400.9,472.8 2403.7,477.8 2398.1,477.8" fill="#0000ff" stroke="none" stroke-width="1"/><text x="2259" y="515.2" font-size="7.1" text-anchor="start" fill="#222">Performance Enhancing-Proxy</text><line x1="2422.5" y1="463.2" x2="2443.8" y2="463.2" stroke="#0000ff" stroke-width="1.5"/><polygon points="2447.3,463.2 2442.3,466 2442.3,460.4" fill="#0000ff" stroke="none" stroke-width="1"/><text x="2434.8" y="460.6" font-size="6.6" text-anchor="middle" fill="#222">HTTP</text><text x="2434.8" y="467.6" font-size="6.6" text-anchor="middle" fill="#222">request</text><line x1="2257.6" y1="533.4" x2="2267.5" y2="533.4" stroke="#0000ff" stroke-width="1.4"/><polygon points="2271,533.4 2266,536.2 2266,530.6" fill="#0000ff" stroke="none" stroke-width="1"/><text x="2273.3" y="535.7" font-size="6.57" text-anchor="start" fill="#222">Request</text><line x1="2299" y1="533.4" x2="2310.9" y2="533.4" stroke="#444" stroke-width="0.7"/><polygon points="2313,533.4 2310,534.9 2310,531.9" fill="#444" stroke="none" stroke-width="1"/><text x="2317.7" y="535.7" font-size="6.57" text-anchor="start" fill="#222">Configuration</text><rect x="2235.2" y="645.7" width="24.2" height="21.9" fill="#fff" stroke="#222" stroke-width="0.9"/><text x="2247.3" y="660.25" font-size="10" text-anchor="middle" fill="#111">1</text><rect x="2235.2" y="689.6" width="24.2" height="23" fill="#fff" stroke="#222" stroke-width="0.9"/><text x="2247.3" y="704.7" font-size="10" text-anchor="middle" fill="#111">2</text><rect x="2235.2" y="719.8" width="24.2" height="23.6" fill="#fff" stroke="#222" stroke-width="0.9"/><text x="2247.3" y="735.2" font-size="10" text-anchor="middle" fill="#111">3</text><rect x="2235.2" y="753.8" width="24.2" height="22.5" fill="#fff" stroke="#222" stroke-width="0.9"/><text x="2247.3" y="768.65" font-size="10" text-anchor="middle" fill="#111">4</text><rect x="2235.2" y="780.1" width="24.2" height="23.1" fill="#fff" stroke="#222" stroke-width="0.9"/><text x="2247.3" y="795.25" font-size="10" text-anchor="middle" fill="#111">5</text><rect x="2235.2" y="808.7" width="24.2" height="23.6" fill="#fff" stroke="#222" stroke-width="0.9"/><text x="2247.3" y="824.1" font-size="10" text-anchor="middle" fill="#111">6</text><rect x="2235.2" y="837.8" width="24.2" height="23.6" fill="#fff" stroke="#222" stroke-width="0.9"/><text x="2247.3" y="853.2" font-size="10" text-anchor="middle" fill="#111">7</text><rect x="2235.2" y="865.2" width="24.2" height="23.6" fill="#fff" stroke="#222" stroke-width="0.9"/><text x="2247.3" y="880.6" font-size="10" text-anchor="middle" fill="#111">8</text><rect x="2235.2" y="894.3" width="24.2" height="23.1" fill="#fff" stroke="#222" stroke-width="0.9"/><text x="2247.3" y="909.45" font-size="10" text-anchor="middle" fill="#111">9</text><rect x="2235.2" y="919" width="24.2" height="23" fill="#fff" stroke="#222" stroke-width="0.9"/><text x="2247.3" y="934.1" font-size="10" text-anchor="middle" fill="#111">10</text><rect x="2235.2" y="951.4" width="24.2" height="23.6" fill="#fff" stroke="#222" stroke-width="0.9"/><text x="2247.3" y="966.8" font-size="10" text-anchor="middle" fill="#111">11</text><line x1="2148.7" y1="672.1" x2="2238.9" y2="672.1" stroke="#333" stroke-width="0.8" stroke-dasharray="2.5,1.5"/><line x1="2148.7" y1="719.8" x2="2238.9" y2="719.8" stroke="#333" stroke-width="0.8" stroke-dasharray="2.5,1.5"/><line x1="2148.7" y1="778.5" x2="2238.9" y2="778.5" stroke="#333" stroke-width="0.8" stroke-dasharray="2.5,1.5"/><line x1="2148.7" y1="835" x2="2238.9" y2="835" stroke="#333" stroke-width="0.8" stroke-dasharray="2.5,1.5"/><line x1="2148.7" y1="891" x2="2238.9" y2="891" stroke="#333" stroke-width="0.8" stroke-dasharray="2.5,1.5"/><line x1="2148.7" y1="945.9" x2="2238.9" y2="945.9" stroke="#333" stroke-width="0.8" stroke-dasharray="2.5,1.5"/><line x1="2148.7" y1="977.7" x2="2238.9" y2="977.7" stroke="#333" stroke-width="0.8" stroke-dasharray="2.5,1.5"/><text x="2191.4" y="660.2" font-size="8.1" text-anchor="middle" fill="#222">Input</text><text x="2192" y="921.2" font-size="8.1" text-anchor="middle" fill="#222">OUTPUT</text><text x="2192" y="965.6" font-size="8.1" text-anchor="middle" fill="#222">Halt</text><text x="2390.2" y="630.9" font-size="6.45" text-anchor="middle" fill="#222">ENTRY</text><line x1="2390.2" y1="633" x2="2390.2" y2="648.5" stroke="#333" stroke-width="0.8"/><polygon points="2390.2,648.5 2388.2,644 2392.2,644" fill="#fff" stroke="#333" stroke-width="0.7"/><rect x="2345.4" y="648.5" width="90" height="27.4" fill="#fff" stroke="#333" stroke-width="0.8"/><text x="2390.4" y="664.6" font-size="6.45" text-anchor="middle" fill="#222">INPUT : Http request</text><line x1="2390.2" y1="675.9" x2="2390.2" y2="688.3" stroke="#333" stroke-width="0.8"/><polygon points="2390.2,688.3 2388.2,683.8 2392.2,683.8" fill="#fff" stroke="#333" stroke-width="0.7"/><polygon points="2339.65,700.6 2390,688.25 2440.35,700.6 2390,712.95" fill="#fff" stroke="#333" stroke-width="0.8"/><text x="2390" y="702.9" font-size="6.45" text-anchor="middle" fill="#222">PEP off ?</text><line x1="2390.2" y1="713" x2="2390.2" y2="725.3" stroke="#333" stroke-width="0.8"/><polygon points="2390.2,725.3 2388.2,720.8 2392.2,720.8" fill="#fff" stroke="#333" stroke-width="0.7"/><text x="2401" y="720.6" font-size="6.45" text-anchor="start" fill="#222">No</text><polygon points="2340,737.6 2390.3,725.25 2440.6,737.6 2390.3,749.95" fill="#fff" stroke="#333" stroke-width="0.8"/><text x="2390.3" y="739.9" font-size="6.45" text-anchor="middle" fill="#222">Lossless ?</text><text x="2354.5" y="727.5" font-size="6.45" text-anchor="middle" fill="#222">Yes</text><polyline points="2340,737.6 2328.5,737.6 2328.5,752.2" fill="none" stroke="#333" stroke-width="0.8"/><polygon points="2328.5,752.2 2326.5,747.7 2330.5,747.7" fill="#fff" stroke="#333" stroke-width="0.7"/><polygon points="2278.2,764.5 2328.7,752.15 2379.2,764.5 2328.7,776.85" fill="#fff" stroke="#333" stroke-width="0.8"/><text x="2328.7" y="766.8" font-size="6.45" text-anchor="middle" fill="#222">To reject ?</text><polyline points="2278.2,764.5 2275.5,764.5 2275.5,915.7" fill="none" stroke="#333" stroke-width="0.8"/><text x="2285.9" y="778.2" font-size="6.45" text-anchor="middle" fill="#222">Yes</text><polyline points="2328.7,776.9 2328.7,791.4 2340,791.4" fill="none" stroke="#333" stroke-width="0.8"/><polygon points="2340,791.4 2335.5,789.4 2335.5,793.4" fill="#fff" stroke="#333" stroke-width="0.7"/><text x="2336.7" y="783" font-size="6.45" text-anchor="middle" fill="#222">No</text><line x1="2390.3" y1="750" x2="2390.3" y2="779" stroke="#333" stroke-width="0.8"/><polygon points="2390.3,779 2388.3,774.5 2392.3,774.5" fill="#fff" stroke="#333" stroke-width="0.7"/><text x="2399.5" y="759.9" font-size="6.45" text-anchor="start" fill="#222">No</text><polygon points="2340,791.4 2390.3,778.75 2440.6,791.4 2390.3,804.05" fill="#fff" stroke="#333" stroke-width="0.8"/><text x="2390.3" y="793.7" font-size="6.45" text-anchor="middle" fill="#222">Delayless ?</text><polyline points="2440.6,791.4 2449.2,791.4 2449.2,806" fill="none" stroke="#333" stroke-width="0.8"/><polygon points="2449.2,806 2447.2,801.5 2451.2,801.5" fill="#fff" stroke="#333" stroke-width="0.7"/><text x="2456.6" y="793.3" font-size="6.45" text-anchor="middle" fill="#222">Yes</text><rect x="2426.9" y="806" width="44.7" height="28" fill="#fff" stroke="#333" stroke-width="0.8"/><text x="2449.25" y="822.4" font-size="6.45" text-anchor="middle" fill="#222">Timer</text><line x1="2390.3" y1="804.3" x2="2390.3" y2="835" stroke="#333" stroke-width="0.8"/><polygon points="2390.3,835 2388.3,830.5 2392.3,830.5" fill="#fff" stroke="#333" stroke-width="0.7"/><text x="2397.3" y="818.6" font-size="6.45" text-anchor="start" fill="#222">No</text><polygon points="2340.95,848.7 2390.6,834.95 2440.25,848.7 2390.6,862.45" fill="#fff" stroke="#333" stroke-width="0.8"/><text x="2390.6" y="851" font-size="6.45" text-anchor="middle" fill="#222">Schedulable ?</text><polyline points="2449.2,834 2449.2,848.7 2440.3,848.7" fill="none" stroke="#333" stroke-width="0.8"/><polygon points="2440.3,848.7 2444.8,846.7 2444.8,850.7" fill="#fff" stroke="#333" stroke-width="0.7"/><polyline points="2341,848.7 2318.8,848.7 2318.8,862.5" fill="none" stroke="#333" stroke-width="0.8"/><polygon points="2318.8,862.5 2316.8,858 2320.8,858" fill="#fff" stroke="#333" stroke-width="0.7"/><text x="2326.5" y="840.5" font-size="6.45" text-anchor="middle" fill="#222">Yes</text><rect x="2292" y="862.5" width="53.7" height="27.5" fill="#fff" stroke="#333" stroke-width="0.8"/><text x="2318.85" y="878.65" font-size="6.45" text-anchor="middle" fill="#222">Scheduler</text><line x1="2390.6" y1="862.5" x2="2390.6" y2="892.7" stroke="#333" stroke-width="0.8"/><polygon points="2390.6,892.7 2388.6,888.2 2392.6,888.2" fill="#fff" stroke="#333" stroke-width="0.7"/><text x="2397.3" y="877.3" font-size="6.45" text-anchor="start" fill="#222">No</text><polyline points="2318.8,890 2318.8,906.3 2345.4,906.3" fill="none" stroke="#333" stroke-width="0.8"/><polygon points="2345.4,906.3 2340.9,904.3 2340.9,908.3" fill="#fff" stroke="#333" stroke-width="0.7"/><polyline points="2440.1,700.6 2473,700.6 2473,906.3 2435.4,906.3" fill="none" stroke="#333" stroke-width="0.8"/><polygon points="2435.4,906.3 2439.9,904.3 2439.9,908.3" fill="#fff" stroke="#333" stroke-width="0.7"/><text x="2447.8" y="691.8" font-size="6.45" text-anchor="middle" fill="#222">Yes</text><rect x="2345.4" y="892.7" width="90" height="27.3" fill="#fff" stroke="#333" stroke-width="0.8"/><text x="2390.4" y="908.75" font-size="6.45" text-anchor="middle" fill="#222">Forward</text><rect x="2260.6" y="915.7" width="29.7" height="28" fill="#fff" stroke="#333" stroke-width="0.8"/><text x="2275.5" y="924" font-size="6.2" text-anchor="middle" fill="#222">Return</text><text x="2275.5" y="931.8" font-size="6.2" text-anchor="middle" fill="#222">an</text><text x="2275.5" y="939.6" font-size="6.2" text-anchor="middle" fill="#222">error</text><polyline points="2275.5,943.7 2275.5,964 2345,964" fill="none" stroke="#333" stroke-width="0.8"/><polygon points="2345,964 2340.5,962 2340.5,966" fill="#fff" stroke="#333" stroke-width="0.7"/><line x1="2390.2" y1="920" x2="2390.2" y2="951.4" stroke="#333" stroke-width="0.8"/><polygon points="2390.2,951.4 2388.2,946.9 2392.2,946.9" fill="#fff" stroke="#333" stroke-width="0.7"/><ellipse cx="2390.2" cy="964" rx="45" ry="12.6" fill="#fff" stroke="#333" stroke-width="0.8"/><text x="2390.2" y="966.5" font-size="6.45" text-anchor="middle" fill="#222">END</text><rect x="2613.7" y="542" width="63" height="84.3" fill="#d9d9d9" stroke="#000" stroke-width="1"/><rect x="2616" y="546" width="58.7" height="65.9" fill="#6aa84f" stroke="#000" stroke-width="0.9"/><rect x="2617.9" y="550" width="54.7" height="45.4" fill="#e06666" stroke="#000" stroke-width="0.9"/><rect x="2621" y="552.2" width="46.7" height="28.8" rx="4" fill="#4a86e8" stroke="#000" stroke-width="1"/><text x="2644.3" y="561.5" font-size="8.2" text-anchor="middle" fill="#111">OM2M</text><path d="M2630,564.4 L2630,574.6 A14.5,2.4 0 0 0 2659,574.6 L2659,564.4 A14.5,2.4 0 0 0 2630,564.4 Z" fill="#674ea7" stroke="#000" stroke-width="0.9"/><ellipse cx="2644.5" cy="564.4" rx="14.5" ry="2.4" fill="#b4a7d6" stroke="#000" stroke-width="0.9"/><text x="2644.5" y="573.42" font-size="6.5" text-anchor="middle" fill="#111">DB</text><text x="2645.3" y="590.5" font-size="8.8" text-anchor="middle" fill="#111">JVM</text><text x="2645.3" y="605" font-size="8.2" text-anchor="middle" fill="#111">VM</text><text x="2645.3" y="620.5" font-size="8.7" text-anchor="middle" fill="#111">Cluster</text><polygon points="2678.8,577 2761,577 2761,572.8 2770,585.2 2761,597.5 2761,593.4 2678.8,593.4" fill="#00ff00" stroke="#222" stroke-width="0.6"/><text x="2722" y="587.8" font-size="8.1" text-anchor="middle" fill="#111">DB Dynamic Distribution</text><rect x="2771.4" y="543.2" width="167.4" height="83.1" fill="#d9d9d9" stroke="#000" stroke-width="1"/><rect x="2775.5" y="548" width="58.8" height="61" fill="#6aa84f" stroke="#000" stroke-width="0.9"/><rect x="2777.5" y="552" width="54.8" height="42" fill="#e06666" stroke="#000" stroke-width="0.9"/><text x="2804.9" y="589" font-size="8.8" text-anchor="middle" fill="#111">JVM</text><text x="2804.9" y="604" font-size="8.2" text-anchor="middle" fill="#111">VM</text><rect x="2874.2" y="548" width="59.7" height="61" fill="#6aa84f" stroke="#000" stroke-width="0.9"/><rect x="2876.2" y="552" width="55.7" height="42" fill="#e06666" stroke="#000" stroke-width="0.9"/><text x="2904.05" y="589" font-size="8.8" text-anchor="middle" fill="#111">JVM</text><text x="2904.05" y="604" font-size="8.2" text-anchor="middle" fill="#111">VM</text><rect x="2780.4" y="560.5" width="47.3" height="17.5" rx="3.5" fill="#4a86e8" stroke="#000" stroke-width="1"/><text x="2804" y="572.3" font-size="8.2" text-anchor="middle" fill="#111">OM2M</text><path d="M2890.7,560.25 L2890.7,577.05 A13.35,3.95 0 0 0 2917.4,577.05 L2917.4,560.25 A13.35,3.95 0 0 0 2890.7,560.25 Z" fill="#674ea7" stroke="#000" stroke-width="0.9"/><ellipse cx="2904.05" cy="560.25" rx="13.35" ry="3.95" fill="#b4a7d6" stroke="#000" stroke-width="0.9"/><text x="2904.05" y="573.81" font-size="7" text-anchor="middle" fill="#111">DB</text><line x1="2827.7" y1="568.5" x2="2885" y2="568.5" stroke="#000" stroke-width="0.9"/><polygon points="2890.5,568.5 2885.5,571 2885.5,566" fill="#000" stroke="none" stroke-width="1"/><text x="2855" y="620.5" font-size="8.7" text-anchor="middle" fill="#111">Cluster</text><ellipse cx="2716.06" cy="890.29" rx="27.97" ry="10.42" fill="#cfe2f3" stroke="#555" stroke-width="0.8"/><text x="2716.06" y="893.69" font-size="8.5" text-anchor="middle" fill="#222">Source</text><ellipse cx="2775.95" cy="890.29" rx="27.75" ry="10.42" fill="#cfe2f3" stroke="#555" stroke-width="0.8"/><text x="2775.95" y="893.69" font-size="8.5" text-anchor="middle" fill="#222">Source</text><ellipse cx="2837.82" cy="890.29" rx="27.97" ry="10.42" fill="#cfe2f3" stroke="#555" stroke-width="0.8"/><text x="2837.82" y="893.69" font-size="8.5" text-anchor="middle" fill="#222">Source</text><line x1="2803.7" y1="890.18" x2="2809.85" y2="890.18" stroke="#555" stroke-width="0.6" stroke-dasharray="1,1"/><path d="M2716.6,900.72 Q2725.82,908.39 2774.09,912.78" fill="none" stroke="#000" stroke-width="1"/><path d="M2836.61,900.72 Q2828.93,908.39 2778.47,912.78" fill="none" stroke="#000" stroke-width="1"/><line x1="2776.28" y1="900.72" x2="2776.28" y2="911.68" stroke="#000" stroke-width="1"/><polygon points="2776.28,913.22 2774.08,909.22 2778.48,909.22" fill="#000" stroke="none" stroke-width="1"/><polygon points="2774.52,913.22 2770.01,913.88 2771.55,909.76" fill="#000" stroke="none" stroke-width="1"/><polygon points="2778.03,913.22 2781.01,909.76 2782.55,913.88" fill="#000" stroke="none" stroke-width="1"/><rect x="2740.52" y="913.22" width="71.52" height="13.16" fill="#ffff00" stroke="#000" stroke-width="1"/><text x="2776.28" y="922.65" font-size="8.7" text-anchor="middle" fill="#111">Load Balancer</text><path d="M2776.28,927.04 Q2714.85,931.43 2706.07,939.11" fill="none" stroke="#000" stroke-width="1"/><path d="M2776.28,927.04 Q2837.71,931.43 2846.49,939.11" fill="none" stroke="#000" stroke-width="1"/><line x1="2776.28" y1="926.38" x2="2776.28" y2="938.01" stroke="#000" stroke-width="1"/><polygon points="2776.28,939.77 2774.08,935.77 2778.48,935.77" fill="#000" stroke="none" stroke-width="1"/><polygon points="2705.63,939.77 2706.35,935.26 2709.83,937.96" fill="#000" stroke="none" stroke-width="1"/><polygon points="2846.92,939.77 2842.73,937.96 2846.2,935.26" fill="#000" stroke="none" stroke-width="1"/><rect x="2672.72" y="939.77" width="64.5" height="57.92" fill="#6aa84f" stroke="#000" stroke-width="1"/><rect x="2675.32" y="944.16" width="59.3" height="36.2" fill="#e06666" stroke="#000" stroke-width="0.9"/><rect x="2678.92" y="946.13" width="52.1" height="18.87" rx="3" fill="#4a86e8" stroke="#000" stroke-width="1"/><text x="2704.98" y="958.2" font-size="8.8" text-anchor="middle" fill="#111">OM2M</text><text x="2704.98" y="973.12" font-size="8.8" text-anchor="middle" fill="#111">JVM</text><text x="2704.98" y="989.57" font-size="8.8" text-anchor="middle" fill="#111">VM</text><rect x="2743.81" y="939.77" width="64.28" height="57.92" fill="#6aa84f" stroke="#000" stroke-width="1"/><rect x="2746.41" y="944.16" width="59.08" height="36.2" fill="#e06666" stroke="#000" stroke-width="0.9"/><rect x="2750.01" y="946.13" width="51.88" height="18.87" rx="3" fill="#4a86e8" stroke="#000" stroke-width="1"/><text x="2775.95" y="958.2" font-size="8.8" text-anchor="middle" fill="#111">OM2M</text><text x="2775.95" y="973.12" font-size="8.8" text-anchor="middle" fill="#111">JVM</text><text x="2775.95" y="989.57" font-size="8.8" text-anchor="middle" fill="#111">VM</text><rect x="2815.33" y="939.77" width="64.06" height="57.92" fill="#6aa84f" stroke="#000" stroke-width="1"/><rect x="2817.93" y="944.16" width="58.86" height="36.2" fill="#e06666" stroke="#000" stroke-width="0.9"/><rect x="2821.53" y="946.13" width="51.66" height="18.87" rx="3" fill="#4a86e8" stroke="#000" stroke-width="1"/><text x="2847.36" y="958.2" font-size="8.8" text-anchor="middle" fill="#111">OM2M</text><text x="2847.36" y="973.12" font-size="8.8" text-anchor="middle" fill="#111">JVM</text><text x="2847.36" y="989.57" font-size="8.8" text-anchor="middle" fill="#111">VM</text><line x1="2808.75" y1="970.92" x2="2814.67" y2="970.92" stroke="#555" stroke-width="0.6" stroke-dasharray="1,1"/><rect x="3004.7" y="458.8" width="23.5" height="100.4" fill="#fff" stroke="#666" stroke-width="0.9"/><text x="3019.5" y="509" font-size="10" text-anchor="middle" fill="#222" transform="rotate(-90 3019.5 509)">Resource adapters</text><rect x="3070.6" y="439" width="244.4" height="138" fill="#999999" stroke="#222" stroke-width="1.2"/><rect x="3076.7" y="447.3" width="75.8" height="100.8" fill="#274e13" stroke="#111" stroke-width="0.9"/><text x="3114.6" y="538.5" font-size="9.4" text-anchor="middle" fill="#000">VM</text><rect x="3156.6" y="447.3" width="68.3" height="100.8" fill="#274e13" stroke="#111" stroke-width="0.9"/><text x="3190.75" y="538.5" font-size="9.4" text-anchor="middle" fill="#000">VM</text><rect x="3239.3" y="447.3" width="69.5" height="100.8" fill="#274e13" stroke="#111" stroke-width="0.9"/><text x="3274.05" y="538.5" font-size="9.4" text-anchor="middle" fill="#000">VM</text><rect x="3082.5" y="455.5" width="63" height="67.1" fill="#cc0000" stroke="#111" stroke-width="0.9"/><rect x="3085.8" y="460.9" width="55.6" height="27.5" rx="4" fill="#4a86e8" stroke="#111" stroke-width="1"/><text x="3113.6" y="477.5" font-size="9.2" text-anchor="middle" fill="#111">OM2M</text><text x="3114" y="499" font-size="9" text-anchor="middle" fill="#7a0000">JVM</text><rect x="3160.7" y="455.5" width="57.6" height="67.1" fill="#6aa84f" stroke="#111" stroke-width="0.9"/><rect x="3164.8" y="460.9" width="47.2" height="27.5" rx="4" fill="#ff9900" stroke="#111" stroke-width="1"/><text x="3188.4" y="477.5" font-size="9.8" text-anchor="middle" fill="#111">Prog 1</text><rect x="3243.5" y="455.5" width="58.5" height="67.1" fill="#6aa84f" stroke="#111" stroke-width="0.9"/><rect x="3249.2" y="460.9" width="47.3" height="27.5" rx="4" fill="#ff9900" stroke="#111" stroke-width="1"/><text x="3272.85" y="477.5" font-size="9.8" text-anchor="middle" fill="#111">Prog n</text><text x="3232" y="481" font-size="9" text-anchor="middle" fill="#111" font-weight="bold">...</text><rect x="3077.6" y="554.3" width="230.4" height="18.5" fill="#d9d9d9" stroke="#111" stroke-width="0.9"/><text x="3193" y="567" font-size="9.8" text-anchor="middle" fill="#222">Cluster</text><rect x="3087" y="470" width="12.4" height="13" fill="#fff" stroke="#111" stroke-width="0.8"/><rect x="3087" y="502.8" width="12.4" height="13" fill="#fff" stroke="#111" stroke-width="0.8"/><rect x="3087" y="530.8" width="12.4" height="13" fill="#fff" stroke="#111" stroke-width="0.8"/><rect x="3087" y="556.3" width="12.4" height="13" fill="#fff" stroke="#111" stroke-width="0.8"/><path d="M3028.5,509 C3050,509 3058,476.5 3085,476.5" fill="none" stroke="#000" stroke-width="1.4"/><polygon points="3087,476.5 3082,479.1 3082,473.9" fill="#000" stroke="none" stroke-width="1"/><path d="M3028.5,509 C3050,509 3058,509 3085,509" fill="none" stroke="#000" stroke-width="1.4"/><polygon points="3087,509 3082,511.6 3082,506.4" fill="#000" stroke="none" stroke-width="1"/><path d="M3028.5,509 C3050,509 3058,537 3085,537" fill="none" stroke="#000" stroke-width="1.4"/><polygon points="3087,537 3082,539.6 3082,534.4" fill="#000" stroke="none" stroke-width="1"/><path d="M3028.5,509 C3050,509 3058,562.5 3085,562.5" fill="none" stroke="#000" stroke-width="1.4"/><polygon points="3087,562.5 3082,565.1 3082,559.9" fill="#000" stroke="none" stroke-width="1"/><rect x="3447.4" y="688.3" width="122.2" height="71.3" rx="11" fill="#fff" stroke="#555" stroke-width="0.8"/><rect x="3591.5" y="702.2" width="142" height="44.1" rx="8" fill="#fff" stroke="#555" stroke-width="0.8"/><rect x="3740.9" y="688.3" width="58.4" height="71.3" rx="11" fill="#fff" stroke="#555" stroke-width="0.8"/><polyline points="3620.6,706.9 3620.6,674.4 3643.3,674.4" fill="none" stroke="#444" stroke-width="0.7" stroke-dasharray="1.2,1"/><polyline points="3682.6,674.4 3705.2,674.4 3705.2,706.9" fill="none" stroke="#444" stroke-width="0.7" stroke-dasharray="1.2,1"/><rect x="3643.3" y="664.3" width="39.3" height="20.7" fill="#fff" stroke="#666" stroke-width="0.8"/><text x="3663" y="678.3" font-size="8.1" text-anchor="middle" fill="#111" font-weight="bold">AM</text><text x="3622" y="692" font-size="5.9" text-anchor="start" fill="#222">CMC Policy</text><text x="3705.7" y="690" font-size="5.9" text-anchor="start" fill="#222">PEP Policy</text><rect x="3450.7" y="707.4" width="53.2" height="34.1" fill="#c9daf8" stroke="#555" stroke-width="0.8"/><text x="3477.3" y="727.5" font-size="8.18" text-anchor="middle" fill="#111" font-weight="bold">Controller</text><polyline points="3503.9,724.4 3511.3,696.2" fill="none" stroke="#f29c38" stroke-width="0.6"/><rect x="3511.3" y="691.1" width="53.1" height="10.2" fill="#c9daf8" stroke="#f29c38" stroke-width="0.7"/><text x="3537.9" y="698.9" font-size="8.1" text-anchor="middle" fill="#111">Injector 1</text><polyline points="3503.9,724.4 3511.3,724.05" fill="none" stroke="#e02424" stroke-width="0.6"/><rect x="3511.3" y="718.5" width="53.1" height="11.1" fill="#c9daf8" stroke="#e02424" stroke-width="0.7"/><text x="3537.9" y="727.2" font-size="8.1" text-anchor="middle" fill="#111">Injector 2</text><polyline points="3503.9,724.4 3511.3,751.85" fill="none" stroke="#e02424" stroke-width="0.6"/><rect x="3511.3" y="746.3" width="53.1" height="11.1" fill="#c9daf8" stroke="#e02424" stroke-width="0.7"/><text x="3537.9" y="755" font-size="8.1" text-anchor="middle" fill="#111">Injector n</text><text x="3538" y="741" font-size="7" text-anchor="middle" fill="#111">...</text><text x="3575.2" y="700" font-size="6" text-anchor="start" fill="#222">Traffic</text><line x1="3564.4" y1="696.2" x2="3588" y2="717.5" stroke="#f29c38" stroke-width="1.6"/><line x1="3564.4" y1="724.2" x2="3586" y2="724.4" stroke="#e02424" stroke-width="1.6"/><line x1="3564.4" y1="751.8" x2="3587" y2="731" stroke="#e02424" stroke-width="1.6"/><polygon points="3595.6,724.4 3583,716 3584,732.5" fill="#e02424" stroke="none" stroke-width="1"/><polygon points="3595.6,722 3585,711.5 3583,720" fill="#f29c38" stroke="none" stroke-width="1"/><rect x="3595.6" y="707.4" width="50" height="34.1" fill="#c9daf8" stroke="#555" stroke-width="0.8"/><text x="3620.6" y="727.5" font-size="8.12" text-anchor="middle" fill="#111" font-weight="bold">CMC</text><polygon points="3645.6,720.4 3668.7,720.4 3668.7,717.9 3678.9,724.4 3668.7,730.9 3668.7,728.4 3645.6,728.4" fill="#ffff33" stroke="none" stroke-width="1"/><text x="3662.2" y="719.8" font-size="5.4" text-anchor="middle" fill="#222">Traffic</text><text x="3662.2" y="726.8" font-size="5.4" text-anchor="middle" fill="#222">with</text><text x="3662.2" y="733.8" font-size="5.4" text-anchor="middle" fill="#222">TOS_HTTP</text><rect x="3679.8" y="707.4" width="50" height="34.1" fill="#c9daf8" stroke="#555" stroke-width="0.8"/><text x="3704.8" y="727.5" font-size="8.12" text-anchor="middle" fill="#111" font-weight="bold">PEP</text><polygon points="3729.8,722.2 3734.5,722.2 3734.5,718.5 3744.6,724.4 3734.5,730.3 3734.5,726.6 3729.8,726.6" fill="#33ee33" stroke="none" stroke-width="1"/><rect x="3745.2" y="707.4" width="50" height="34.1" fill="#c9daf8" stroke="#555" stroke-width="0.8"/><text x="3770.2" y="727.5" font-size="8" text-anchor="middle" fill="#111" font-weight="bold">GSCL</text><text x="3507.6" y="770.7" font-size="8.2" text-anchor="middle" fill="#222">Traffic Emulator</text><text x="3661.9" y="770.7" font-size="8.2" text-anchor="middle" fill="#222">Request-oriented QoS Manager</text><text x="3766" y="770.7" font-size="8.2" text-anchor="middle" fill="#222">Platform</text><line x1="3466" y1="780.9" x2="3489.6" y2="780.9" stroke="#f29c38" stroke-width="1.4"/><text x="3493.7" y="782.8" font-size="6.57" text-anchor="start" fill="#222">Observed Traffic</text><line x1="3545.6" y1="780.9" x2="3569.6" y2="780.9" stroke="#e02424" stroke-width="1.4"/><text x="3573.7" y="782.8" font-size="6.57" text-anchor="start" fill="#222">Disruptive Traffic</text><line x1="3630.7" y1="780.9" x2="3654.8" y2="780.9" stroke="#ffff33" stroke-width="1.4"/><text x="3659" y="782.8" font-size="6.57" text-anchor="start" fill="#222">Marked Traffic</text><line x1="3707.6" y1="780.9" x2="3731.7" y2="780.9" stroke="#33ee33" stroke-width="1.4"/><text x="3735.4" y="782.8" font-size="6.57" text-anchor="start" fill="#222">Allowed Traffic</text><text x="4004.4" y="819.8" font-size="7.67" text-anchor="middle" fill="#222" font-weight="bold">RTT Without QoS Management</text><line x1="3864.6" y1="933.5" x2="4182.1" y2="933.5" stroke="#d9d9d9" stroke-width="0.8"/><text x="3859" y="935.6" font-size="6.8" text-anchor="end" fill="#222">0</text><line x1="3864.6" y1="923.12" x2="4182.1" y2="923.12" stroke="#d9d9d9" stroke-width="0.8"/><text x="3859" y="925.22" font-size="6.8" text-anchor="end" fill="#222">1000</text><line x1="3864.6" y1="912.74" x2="4182.1" y2="912.74" stroke="#d9d9d9" stroke-width="0.8"/><text x="3859" y="914.84" font-size="6.8" text-anchor="end" fill="#222">2000</text><line x1="3864.6" y1="902.36" x2="4182.1" y2="902.36" stroke="#d9d9d9" stroke-width="0.8"/><text x="3859" y="904.46" font-size="6.8" text-anchor="end" fill="#222">3000</text><line x1="3864.6" y1="891.98" x2="4182.1" y2="891.98" stroke="#d9d9d9" stroke-width="0.8"/><text x="3859" y="894.08" font-size="6.8" text-anchor="end" fill="#222">4000</text><line x1="3864.6" y1="881.6" x2="4182.1" y2="881.6" stroke="#d9d9d9" stroke-width="0.8"/><text x="3859" y="883.7" font-size="6.8" text-anchor="end" fill="#222">5000</text><line x1="3864.6" y1="871.22" x2="4182.1" y2="871.22" stroke="#d9d9d9" stroke-width="0.8"/><text x="3859" y="873.32" font-size="6.8" text-anchor="end" fill="#222">6000</text><line x1="3864.6" y1="860.84" x2="4182.1" y2="860.84" stroke="#d9d9d9" stroke-width="0.8"/><text x="3859" y="862.94" font-size="6.8" text-anchor="end" fill="#222">7000</text><line x1="3864.6" y1="850.46" x2="4182.1" y2="850.46" stroke="#d9d9d9" stroke-width="0.8"/><text x="3859" y="852.56" font-size="6.8" text-anchor="end" fill="#222">8000</text><line x1="3864.6" y1="840.08" x2="4182.1" y2="840.08" stroke="#d9d9d9" stroke-width="0.8"/><text x="3859" y="842.18" font-size="6.8" text-anchor="end" fill="#222">9000</text><line x1="3864.6" y1="829.7" x2="4182.1" y2="829.7" stroke="#d9d9d9" stroke-width="0.8"/><text x="3859" y="831.8" font-size="6.8" text-anchor="end" fill="#222">10000</text><line x1="3864.6" y1="933.5" x2="4182.1" y2="933.5" stroke="#aaa" stroke-width="0.8"/><text x="3836.8" y="881.3" font-size="6.4" font-weight="bold" text-anchor="middle" fill="#222" transform="rotate(-90 3836.8 881.3)">Response Time (ms)</text><text x="4022.6" y="958" font-size="6.6" text-anchor="middle" fill="#222" font-weight="bold">Request</text><text x="3867.5" y="937" font-size="5.6" text-anchor="end" fill="#222" transform="rotate(-90 3867.5 937)">1</text><text x="3877.01" y="937" font-size="5.6" text-anchor="end" fill="#222" transform="rotate(-90 3877.01 937)">7</text><text x="3886.52" y="937" font-size="5.6" text-anchor="end" fill="#222" transform="rotate(-90 3886.52 937)">13</text><text x="3896.03" y="937" font-size="5.6" text-anchor="end" fill="#222" transform="rotate(-90 3896.03 937)">19</text><text x="3905.54" y="937" font-size="5.6" text-anchor="end" fill="#222" transform="rotate(-90 3905.54 937)">25</text><text x="3915.05" y="937" font-size="5.6" text-anchor="end" fill="#222" transform="rotate(-90 3915.05 937)">31</text><text x="3924.56" y="937" font-size="5.6" text-anchor="end" fill="#222" transform="rotate(-90 3924.56 937)">37</text><text x="3934.07" y="937" font-size="5.6" text-anchor="end" fill="#222" transform="rotate(-90 3934.07 937)">43</text><text x="3943.58" y="937" font-size="5.6" text-anchor="end" fill="#222" transform="rotate(-90 3943.58 937)">49</text><text x="3953.09" y="937" font-size="5.6" text-anchor="end" fill="#222" transform="rotate(-90 3953.09 937)">55</text><text x="3962.6" y="937" font-size="5.6" text-anchor="end" fill="#222" transform="rotate(-90 3962.6 937)">61</text><text x="3972.11" y="937" font-size="5.6" text-anchor="end" fill="#222" transform="rotate(-90 3972.11 937)">67</text><text x="3981.61" y="937" font-size="5.6" text-anchor="end" fill="#222" transform="rotate(-90 3981.61 937)">73</text><text x="3991.12" y="937" font-size="5.6" text-anchor="end" fill="#222" transform="rotate(-90 3991.12 937)">79</text><text x="4000.63" y="937" font-size="5.6" text-anchor="end" fill="#222" transform="rotate(-90 4000.63 937)">85</text><text x="4010.14" y="937" font-size="5.6" text-anchor="end" fill="#222" transform="rotate(-90 4010.14 937)">91</text><text x="4019.65" y="937" font-size="5.6" text-anchor="end" fill="#222" transform="rotate(-90 4019.65 937)">97</text><text x="4029.16" y="937" font-size="5.6" text-anchor="end" fill="#222" transform="rotate(-90 4029.16 937)">103</text><text x="4038.67" y="937" font-size="5.6" text-anchor="end" fill="#222" transform="rotate(-90 4038.67 937)">109</text><text x="4048.18" y="937" font-size="5.6" text-anchor="end" fill="#222" transform="rotate(-90 4048.18 937)">115</text><text x="4057.69" y="937" font-size="5.6" text-anchor="end" fill="#222" transform="rotate(-90 4057.69 937)">121</text><text x="4067.2" y="937" font-size="5.6" text-anchor="end" fill="#222" transform="rotate(-90 4067.2 937)">127</text><text x="4076.71" y="937" font-size="5.6" text-anchor="end" fill="#222" transform="rotate(-90 4076.71 937)">133</text><text x="4086.22" y="937" font-size="5.6" text-anchor="end" fill="#222" transform="rotate(-90 4086.22 937)">139</text><text x="4095.73" y="937" font-size="5.6" text-anchor="end" fill="#222" transform="rotate(-90 4095.73 937)">145</text><text x="4105.24" y="937" font-size="5.6" text-anchor="end" fill="#222" transform="rotate(-90 4105.24 937)">151</text><text x="4114.75" y="937" font-size="5.6" text-anchor="end" fill="#222" transform="rotate(-90 4114.75 937)">157</text><text x="4124.26" y="937" font-size="5.6" text-anchor="end" fill="#222" transform="rotate(-90 4124.26 937)">163</text><text x="4133.77" y="937" font-size="5.6" text-anchor="end" fill="#222" transform="rotate(-90 4133.77 937)">169</text><text x="4143.28" y="937" font-size="5.6" text-anchor="end" fill="#222" transform="rotate(-90 4143.28 937)">175</text><text x="4152.79" y="937" font-size="5.6" text-anchor="end" fill="#222" transform="rotate(-90 4152.79 937)">181</text><text x="4162.3" y="937" font-size="5.6" text-anchor="end" fill="#222" transform="rotate(-90 4162.3 937)">187</text><text x="4171.81" y="937" font-size="5.6" text-anchor="end" fill="#222" transform="rotate(-90 4171.81 937)">193</text><text x="4181.32" y="937" font-size="5.6" text-anchor="end" fill="#222" transform="rotate(-90 4181.32 937)">199</text><polyline points="3865.5,933.52 3867.08,931.47 3868.67,932.26 3870.25,932.57 3871.84,931.94 3873.42,932.26 3875.01,931.62 3876.59,930.99 3878.18,929.1 3879.76,930.68 3881.35,930.99 3882.93,932.57 3884.52,930.36 3886.1,928.31 3887.69,929.1 3889.27,927.52 3890.86,929.42 3892.44,930.99 3894.03,931.47 3895.61,930.99 3897.2,931.47 3898.78,932.26 3900.37,933.2 3901.95,933.04 3903.54,932.89 3905.12,932.73 3906.71,932.57 3908.29,932.89 3909.88,932.73 3911.46,932.41 3913.05,932.73 3914.63,932.26 3916.22,932.89 3917.8,932.57 3919.39,932.1 3920.97,932.73 3922.56,932.26 3924.14,931.62 3925.73,930.99 3927.31,931.47 3928.9,931.47 3930.48,930.36 3932.07,929.42 3933.65,925.95 3935.24,929.1 3936.82,929.89 3938.41,928.31 3939.99,929.42 3941.58,928.79 3943.16,929.42 3944.75,926.74 3946.33,929.89 3947.92,925.95 3949.5,924.05 3951.09,922 3952.67,918.06 3954.26,917.27 3955.84,908.6 3957.43,916.48 3959.01,907.02 3960.6,912.54 3962.18,918.06 3963.77,919.64 3965.35,919.64 3966.94,919.64 3968.52,897.56 3970.11,910.17 3971.69,908.6 3973.27,918.06 3974.86,905.44 3976.44,912.54 3978.03,903.86 3979.61,907.02 3981.2,910.96 3982.78,902.29 3984.37,910.96 3985.95,914.91 3987.54,910.96 3989.12,910.17 3990.71,908.6 3992.29,899.13 3993.88,917.27 3995.46,890.46 3997.05,902.29 3998.63,884.15 4000.22,907.02 4001.8,907.02 4003.39,892.03 4004.97,910.17 4006.56,913.33 4008.14,914.12 4009.73,914.91 4011.31,899.13 4012.9,884.62 4014.48,891.25 4016.07,912.54 4017.65,915.69 4019.24,906.23 4020.82,911.75 4022.41,900.71 4023.99,902.29 4025.58,902.29 4027.16,911.75 4028.75,908.6 4030.33,907.02 4031.92,913.33 4033.5,899.92 4035.09,898.34 4036.67,900.71 4038.26,889.67 4039.84,907.02 4041.43,892.82 4043.01,890.46 4044.6,884.62 4046.18,892.82 4047.77,899.92 4049.35,894.4 4050.94,895.98 4052.52,896.77 4054.11,889.67 4055.69,907.02 4057.28,906.23 4058.86,896.77 4060.45,888.09 4062.03,897.56 4063.62,900.71 4065.2,904.65 4066.79,891.25 4068.37,900.71 4069.96,877.05 4071.54,883.36 4073.13,889.67 4074.71,893.61 4076.29,863.64 4077.88,896.77 4079.46,878.63 4081.05,887.3 4082.63,893.61 4084.22,875.47 4085.8,872.32 4087.39,884.94 4088.97,871.53 4090.56,888.09 4092.14,909.38 4093.73,880.21 4095.31,870.74 4096.9,875.47 4098.48,863.64 4100.07,889.67 4101.65,847.08 4103.24,876.26 4104.82,877.84 4106.41,856.55 4107.99,877.05 4109.58,888.09 4111.16,877.05 4112.75,875.47 4114.33,851.03 4115.92,879.42 4117.5,851.03 4119.09,866.8 4120.67,867.59 4122.26,896.77 4123.84,870.74 4125.43,854.97 4127.01,873.11 4128.6,876.26 4130.18,865.22 4131.77,862.85 4133.35,858.91 4134.94,899.13 4136.52,900.71 4138.11,863.64 4139.69,878.63 4141.28,877.84 4142.86,870.74 4144.45,875.47 4146.03,867.59 4147.62,881.78 4149.2,873.9 4150.79,869.95 4152.37,872.32 4153.96,829.73 4155.54,887.3 4157.13,888.88 4158.71,888.88 4160.3,853.39 4161.88,870.74 4163.47,873.9 4165.05,891.25 4166.64,891.25 4168.22,852.6 4169.81,864.43 4171.39,890.46 4172.98,889.67 4174.56,870.74 4176.15,874.68 4177.73,873.11 4179.32,881.78 4180.9,853.39" fill="none" stroke="#2c5f94" stroke-width="1"/><line x1="3442.6" y1="157.5" x2="3442.6" y2="298.7" stroke="#000" stroke-width="1.2"/><line x1="3576.4" y1="157.5" x2="3576.4" y2="298.7" stroke="#000" stroke-width="1.2"/><line x1="3634.8" y1="157.5" x2="3634.8" y2="298.7" stroke="#000" stroke-width="1.2"/><line x1="3713.4" y1="157.5" x2="3713.4" y2="298.7" stroke="#000" stroke-width="1.2"/><line x1="3794.5" y1="157.5" x2="3794.5" y2="298.7" stroke="#000" stroke-width="1.2"/><line x1="3442.6" y1="157.5" x2="3794.5" y2="157.5" stroke="#000" stroke-width="1.2"/><line x1="3442.6" y1="212.3" x2="3794.5" y2="212.3" stroke="#000" stroke-width="1.2"/><line x1="3442.6" y1="241.9" x2="3794.5" y2="241.9" stroke="#000" stroke-width="1.2"/><line x1="3442.6" y1="270.7" x2="3794.5" y2="270.7" stroke="#000" stroke-width="1.2"/><line x1="3442.6" y1="298.7" x2="3794.5" y2="298.7" stroke="#000" stroke-width="1.2"/><text x="3509.5" y="176" font-size="11.4" text-anchor="middle" fill="#000" style="font-family:&quot;Liberation Serif&quot;,serif" font-weight="bold">Application</text><text x="3605.6" y="176" font-size="11.4" text-anchor="middle" fill="#000" style="font-family:&quot;Liberation Serif&quot;,serif" font-weight="bold">Average</text><text x="3605.6" y="189.5" font-size="11.4" text-anchor="middle" fill="#000" style="font-family:&quot;Liberation Serif&quot;,serif" font-weight="bold">requests</text><text x="3605.6" y="203" font-size="11.4" text-anchor="middle" fill="#000" style="font-family:&quot;Liberation Serif&quot;,serif" font-weight="bold">rate</text><text x="3674.1" y="176" font-size="11.4" text-anchor="middle" fill="#000" style="font-family:&quot;Liberation Serif&quot;,serif" font-weight="bold">Acceptable</text><text x="3674.1" y="189.5" font-size="11.4" text-anchor="middle" fill="#000" style="font-family:&quot;Liberation Serif&quot;,serif" font-weight="bold">RTT</text><text x="3753.95" y="176" font-size="11.4" text-anchor="middle" fill="#000" style="font-family:&quot;Liberation Serif&quot;,serif" font-weight="bold">Acceptable</text><text x="3753.95" y="189.5" font-size="11.4" text-anchor="middle" fill="#000" style="font-family:&quot;Liberation Serif&quot;,serif" font-weight="bold">Loss rate</text><text x="3509.5" y="231.5" font-size="11.4" text-anchor="middle" fill="#000" style="font-family:&quot;Liberation Serif&quot;,serif">Postoperative monitoring</text><text x="3605.6" y="231.5" font-size="11.4" text-anchor="middle" fill="#000" style="font-family:&quot;Liberation Serif&quot;,serif">6 req/s</text><text x="3674.1" y="231.5" font-size="11.4" text-anchor="middle" fill="#000" style="font-family:&quot;Liberation Serif&quot;,serif">&lt; 350 ms</text><text x="3753.95" y="231.5" font-size="11.4" text-anchor="middle" fill="#000" style="font-family:&quot;Liberation Serif&quot;,serif">0%</text><text x="3509.5" y="260.3" font-size="11.4" text-anchor="middle" fill="#000" style="font-family:&quot;Liberation Serif&quot;,serif">Location monitoring</text><text x="3605.6" y="260.3" font-size="11.4" text-anchor="middle" fill="#000" style="font-family:&quot;Liberation Serif&quot;,serif">2 req/s</text><text x="3674.1" y="260.3" font-size="11.4" text-anchor="middle" fill="#000" style="font-family:&quot;Liberation Serif&quot;,serif">~10s</text><text x="3753.95" y="260.3" font-size="11.4" text-anchor="middle" fill="#000" style="font-family:&quot;Liberation Serif&quot;,serif">50%</text><text x="3509.5" y="289.1" font-size="11.4" text-anchor="middle" fill="#000" style="font-family:&quot;Liberation Serif&quot;,serif">Calories monitoring</text><text x="3605.6" y="289.1" font-size="11.4" text-anchor="middle" fill="#000" style="font-family:&quot;Liberation Serif&quot;,serif">2 req/s</text><text x="3674.1" y="289.1" font-size="11.4" text-anchor="middle" fill="#000" style="font-family:&quot;Liberation Serif&quot;,serif">No constraint</text><text x="3753.95" y="289.1" font-size="11.4" text-anchor="middle" fill="#000" style="font-family:&quot;Liberation Serif&quot;,serif">No constraint</text><line x1="3456.2" y1="889.3" x2="3456.2" y2="986" stroke="#000" stroke-width="1.2"/><line x1="3542.6" y1="889.3" x2="3542.6" y2="986" stroke="#000" stroke-width="1.2"/><line x1="3615.9" y1="889.3" x2="3615.9" y2="986" stroke="#000" stroke-width="1.2"/><line x1="3666.9" y1="889.3" x2="3666.9" y2="986" stroke="#000" stroke-width="1.2"/><line x1="3718.4" y1="889.3" x2="3718.4" y2="986" stroke="#000" stroke-width="1.2"/><line x1="3772.7" y1="889.3" x2="3772.7" y2="986" stroke="#000" stroke-width="1.2"/><line x1="3456.2" y1="889.3" x2="3772.7" y2="889.3" stroke="#000" stroke-width="1.2"/><line x1="3456.2" y1="919.4" x2="3772.7" y2="919.4" stroke="#000" stroke-width="1.2"/><line x1="3456.2" y1="955.6" x2="3772.7" y2="955.6" stroke="#000" stroke-width="1.2"/><line x1="3456.2" y1="986" x2="3772.7" y2="986" stroke="#000" stroke-width="1.2"/><text x="3499.4" y="909" font-size="12.82" text-anchor="middle" fill="#000" style="font-family:&quot;Liberation Serif&quot;,serif" font-weight="bold">Resource</text><text x="3579.25" y="909" font-size="12.82" text-anchor="middle" fill="#000" style="font-family:&quot;Liberation Serif&quot;,serif" font-weight="bold">Emulator</text><text x="3641.4" y="909" font-size="12.82" text-anchor="middle" fill="#000" style="font-family:&quot;Liberation Serif&quot;,serif" font-weight="bold">CMC</text><text x="3692.65" y="909" font-size="12.82" text-anchor="middle" fill="#000" style="font-family:&quot;Liberation Serif&quot;,serif" font-weight="bold">PEP</text><text x="3745.55" y="909" font-size="12.82" text-anchor="middle" fill="#000" style="font-family:&quot;Liberation Serif&quot;,serif" font-weight="bold">GSCL</text><text x="3499.4" y="938.8" font-size="12.82" text-anchor="middle" fill="#000" style="font-family:&quot;Liberation Serif&quot;,serif" font-weight="bold">RAM (MB)</text><text x="3579.25" y="938.8" font-size="12.82" text-anchor="middle" fill="#000" style="font-family:&quot;Liberation Serif&quot;,serif">1024</text><text x="3641.4" y="938.8" font-size="12.82" text-anchor="middle" fill="#000" style="font-family:&quot;Liberation Serif&quot;,serif">1024</text><text x="3692.65" y="938.8" font-size="12.82" text-anchor="middle" fill="#000" style="font-family:&quot;Liberation Serif&quot;,serif">2048</text><text x="3745.55" y="938.8" font-size="12.82" text-anchor="middle" fill="#000" style="font-family:&quot;Liberation Serif&quot;,serif">512</text><text x="3499.4" y="975" font-size="12.82" text-anchor="middle" fill="#000" style="font-family:&quot;Liberation Serif&quot;,serif" font-weight="bold">CPU (core)</text><text x="3579.25" y="975" font-size="12.82" text-anchor="middle" fill="#000" style="font-family:&quot;Liberation Serif&quot;,serif">1</text><text x="3641.4" y="975" font-size="12.82" text-anchor="middle" fill="#000" style="font-family:&quot;Liberation Serif&quot;,serif">1</text><text x="3692.65" y="975" font-size="12.82" text-anchor="middle" fill="#000" style="font-family:&quot;Liberation Serif&quot;,serif">2</text><text x="3745.55" y="975" font-size="12.82" text-anchor="middle" fill="#000" style="font-family:&quot;Liberation Serif&quot;,serif">1</text><line x1="3822.6" y1="457.6" x2="3822.6" y2="585.1" stroke="#000" stroke-width="1.2"/><line x1="3929.6" y1="457.6" x2="3929.6" y2="585.1" stroke="#000" stroke-width="1.2"/><line x1="3999.6" y1="457.6" x2="3999.6" y2="585.1" stroke="#000" stroke-width="1.2"/><line x1="4099.6" y1="457.6" x2="4099.6" y2="585.1" stroke="#000" stroke-width="1.2"/><line x1="4176.5" y1="457.6" x2="4176.5" y2="585.1" stroke="#000" stroke-width="1.2"/><line x1="3822.6" y1="457.6" x2="4176.5" y2="457.6" stroke="#000" stroke-width="1.2"/><line x1="3822.6" y1="498.7" x2="4176.5" y2="498.7" stroke="#000" stroke-width="1.2"/><line x1="3822.6" y1="527.5" x2="4176.5" y2="527.5" stroke="#000" stroke-width="1.2"/><line x1="3822.6" y1="556.3" x2="4176.5" y2="556.3" stroke="#000" stroke-width="1.2"/><line x1="3822.6" y1="585.1" x2="4176.5" y2="585.1" stroke="#000" stroke-width="1.2"/><text x="3876.1" y="476.5" font-size="11.4" text-anchor="middle" fill="#000" style="font-family:&quot;Liberation Serif&quot;,serif" font-weight="bold">RTT (ms)</text><text x="3964.6" y="476.5" font-size="11.4" text-anchor="middle" fill="#000" style="font-family:&quot;Liberation Serif&quot;,serif" font-weight="bold">State</text><text x="4049.6" y="476.5" font-size="11.4" text-anchor="middle" fill="#000" style="font-family:&quot;Liberation Serif&quot;,serif" font-weight="bold">MED_PR</text><text x="4049.6" y="490" font-size="11.4" text-anchor="middle" fill="#000" style="font-family:&quot;Liberation Serif&quot;,serif" font-weight="bold">Rejection</text><text x="4138.05" y="476.5" font-size="11.4" text-anchor="middle" fill="#000" style="font-family:&quot;Liberation Serif&quot;,serif" font-weight="bold">LOW_PR</text><text x="4138.05" y="490" font-size="11.4" text-anchor="middle" fill="#000" style="font-family:&quot;Liberation Serif&quot;,serif" font-weight="bold">Rejection</text><text x="3876.1" y="518" font-size="11.4" text-anchor="middle" fill="#000" style="font-family:&quot;Liberation Serif&quot;,serif" font-weight="bold">RTT &lt; 300</text><text x="3964.6" y="518" font-size="11.4" text-anchor="middle" fill="#000" style="font-family:&quot;Liberation Serif&quot;,serif">Normal</text><text x="4049.6" y="518" font-size="11.4" text-anchor="middle" fill="#000" style="font-family:&quot;Liberation Serif&quot;,serif">0</text><text x="4138.05" y="518" font-size="11.4" text-anchor="middle" fill="#000" style="font-family:&quot;Liberation Serif&quot;,serif">0</text><text x="3876.1" y="546.8" font-size="11.4" text-anchor="middle" fill="#000" style="font-family:&quot;Liberation Serif&quot;,serif" font-weight="bold">300 ≤ RTT &lt; 400</text><text x="3964.6" y="546.8" font-size="11.4" text-anchor="middle" fill="#000" style="font-family:&quot;Liberation Serif&quot;,serif">Warning</text><text x="4049.6" y="546.8" font-size="11.4" text-anchor="middle" fill="#000" style="font-family:&quot;Liberation Serif&quot;,serif">30</text><text x="4138.05" y="546.8" font-size="11.4" text-anchor="middle" fill="#000" style="font-family:&quot;Liberation Serif&quot;,serif">70</text><text x="3876.1" y="575.6" font-size="11.4" text-anchor="middle" fill="#000" style="font-family:&quot;Liberation Serif&quot;,serif" font-weight="bold">RTT ≥ 400</text><text x="3964.6" y="575.6" font-size="11.4" text-anchor="middle" fill="#000" style="font-family:&quot;Liberation Serif&quot;,serif">Critical</text><text x="4049.6" y="575.6" font-size="11.4" text-anchor="middle" fill="#000" style="font-family:&quot;Liberation Serif&quot;,serif">40</text><text x="4138.05" y="575.6" font-size="11.4" text-anchor="middle" fill="#000" style="font-family:&quot;Liberation Serif&quot;,serif">80</text></svg>
</body></html>
